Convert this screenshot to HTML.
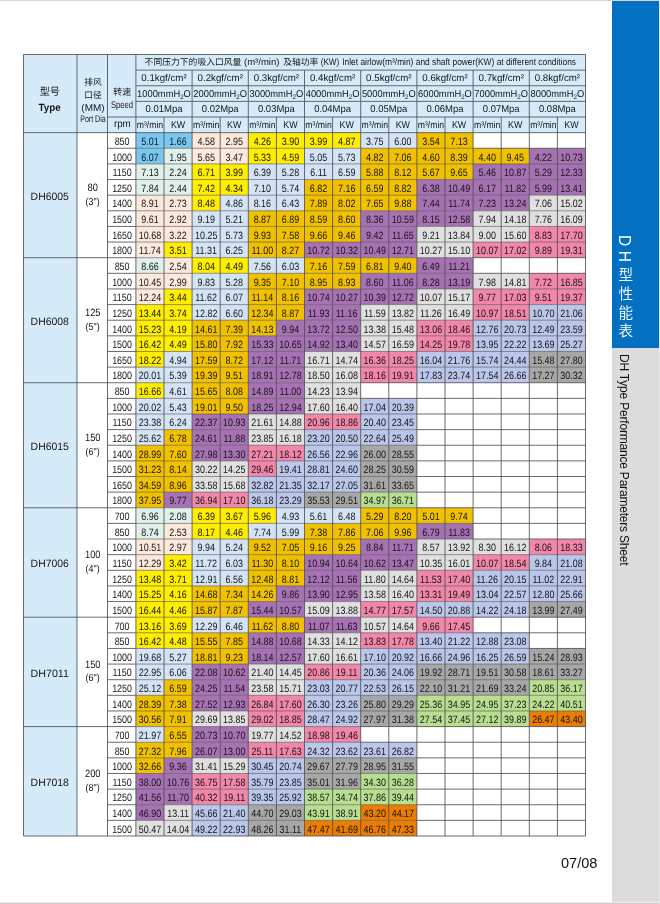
<!DOCTYPE html>
<html lang="zh"><head><meta charset="utf-8"><title>DH型性能表 DH Type Performance Parameters Sheet</title>
<style>
html,body{margin:0;padding:0;background:#fff;}
body{width:660px;height:904px;overflow:hidden;position:relative;font-family:"Liberation Sans","Noto Sans CJK SC",sans-serif;}
svg{position:absolute;left:0;top:0;display:block;}
text{font-family:"Liberation Sans","Noto Sans CJK SC",sans-serif;fill:#161616;text-anchor:middle;text-rendering:geometricPrecision;}
.side-blue{position:absolute;left:612px;top:0;width:47px;height:348px;background:#0370c1;}
.side-grey{position:absolute;left:612px;top:348px;width:47px;height:554px;background:#dcdcdc;}
.vcn{position:absolute;left:615.3px;top:235px;width:18px;color:#fff;font-size:14.6px;line-height:18px;writing-mode:vertical-rl;text-orientation:mixed;letter-spacing:4.1px;white-space:nowrap;font-weight:350;}
.vcn .l1{letter-spacing:4.4px;font-weight:400;font-size:15.6px;}
.vcn .l2{letter-spacing:5.6px;font-weight:400;font-size:15.6px;}
.ven{position:absolute;left:615px;top:354.4px;width:18px;color:#111;font-size:12px;line-height:18px;writing-mode:vertical-rl;text-orientation:mixed;white-space:nowrap;letter-spacing:-0.2px;}
.pg{position:absolute;left:560.5px;top:853px;font-size:15.5px;line-height:20px;color:#111;white-space:nowrap;transform:scaleX(0.94);transform-origin:0 0;}
.edge-t{position:absolute;left:0;top:0;width:660px;height:1px;background:#d9d4d9;}
.edge-b{position:absolute;left:0;top:902px;width:660px;height:2px;background:#d2ccd0;border-top:1px solid #ebe9eb;box-sizing:border-box;}
.edge-r{position:absolute;left:659px;top:0;width:1px;height:904px;background:#e6e6e6;}
</style></head><body>
<div class="side-blue"></div><div class="side-grey"></div>
<div class="edge-t"></div><div class="edge-b"></div><div class="edge-r"></div>
<div class="vcn"><span class="l1">D</span><span class="l2">H</span>型性能表</div>
<div class="ven">DH Type Performance Parameters Sheet</div>
<div class="pg">07/08</div>
<svg width="660" height="904" viewBox="0 0 660 904">
<rect x="23.5" y="54.5" width="562" height="78.15" fill="#d5ebfa"/>
<rect x="23.5" y="132.65" width="53.5" height="703.35" fill="#d5ebfa"/>
<rect x="135.9" y="132.65" width="56.2" height="15.63" fill="#7ac8f2"/>
<rect x="192.1" y="132.65" width="56.2" height="15.63" fill="#fde8dc"/>
<rect x="248.3" y="132.65" width="112.4" height="15.63" fill="#ffee00"/>
<rect x="360.7" y="132.65" width="56.2" height="15.63" fill="#d4e4f6"/>
<rect x="416.9" y="132.65" width="56.2" height="15.63" fill="#f1c100"/>
<rect x="135.9" y="148.28" width="28.1" height="15.63" fill="#7ac8f2"/>
<rect x="164" y="148.28" width="28.1" height="15.63" fill="#e0f0ea"/>
<rect x="192.1" y="148.28" width="56.2" height="15.63" fill="#fde8dc"/>
<rect x="248.3" y="148.28" width="56.2" height="15.63" fill="#ffee00"/>
<rect x="304.5" y="148.28" width="56.2" height="15.63" fill="#d4e4f6"/>
<rect x="360.7" y="148.28" width="168.6" height="15.63" fill="#f1c100"/>
<rect x="529.3" y="148.28" width="56.2" height="15.63" fill="#a672b4"/>
<rect x="135.9" y="163.91" width="56.2" height="15.63" fill="#e0f0ea"/>
<rect x="192.1" y="163.91" width="56.2" height="15.63" fill="#ffee00"/>
<rect x="248.3" y="163.91" width="112.4" height="15.63" fill="#d4e4f6"/>
<rect x="360.7" y="163.91" width="112.4" height="15.63" fill="#f1c100"/>
<rect x="473.1" y="163.91" width="112.4" height="15.63" fill="#a672b4"/>
<rect x="135.9" y="179.54" width="56.2" height="15.63" fill="#e0f0ea"/>
<rect x="192.1" y="179.54" width="56.2" height="15.63" fill="#ffee00"/>
<rect x="248.3" y="179.54" width="56.2" height="15.63" fill="#d4e4f6"/>
<rect x="304.5" y="179.54" width="112.4" height="15.63" fill="#f1c100"/>
<rect x="416.9" y="179.54" width="168.6" height="15.63" fill="#a672b4"/>
<rect x="135.9" y="195.17" width="56.2" height="15.63" fill="#fde8dc"/>
<rect x="192.1" y="195.17" width="28.1" height="15.63" fill="#ffee00"/>
<rect x="220.2" y="195.17" width="84.3" height="15.63" fill="#d4e4f6"/>
<rect x="304.5" y="195.17" width="112.4" height="15.63" fill="#f1c100"/>
<rect x="416.9" y="195.17" width="112.4" height="15.63" fill="#a672b4"/>
<rect x="529.3" y="195.17" width="56.2" height="15.63" fill="#e0e0e0"/>
<rect x="135.9" y="210.8" width="56.2" height="15.63" fill="#fde8dc"/>
<rect x="192.1" y="210.8" width="56.2" height="15.63" fill="#d4e4f6"/>
<rect x="248.3" y="210.8" width="112.4" height="15.63" fill="#f1c100"/>
<rect x="360.7" y="210.8" width="112.4" height="15.63" fill="#a672b4"/>
<rect x="473.1" y="210.8" width="112.4" height="15.63" fill="#e0e0e0"/>
<rect x="135.9" y="226.43" width="56.2" height="15.63" fill="#fde8dc"/>
<rect x="192.1" y="226.43" width="56.2" height="15.63" fill="#d4e4f6"/>
<rect x="248.3" y="226.43" width="112.4" height="15.63" fill="#f1c100"/>
<rect x="360.7" y="226.43" width="56.2" height="15.63" fill="#a672b4"/>
<rect x="416.9" y="226.43" width="112.4" height="15.63" fill="#e0e0e0"/>
<rect x="529.3" y="226.43" width="56.2" height="15.63" fill="#f287aa"/>
<rect x="135.9" y="242.06" width="28.1" height="15.63" fill="#fde8dc"/>
<rect x="164" y="242.06" width="28.1" height="15.63" fill="#ffee00"/>
<rect x="192.1" y="242.06" width="56.2" height="15.63" fill="#d4e4f6"/>
<rect x="248.3" y="242.06" width="56.2" height="15.63" fill="#f1c100"/>
<rect x="304.5" y="242.06" width="112.4" height="15.63" fill="#a672b4"/>
<rect x="416.9" y="242.06" width="56.2" height="15.63" fill="#e0e0e0"/>
<rect x="473.1" y="242.06" width="112.4" height="15.63" fill="#f287aa"/>
<rect x="135.9" y="257.69" width="28.1" height="15.63" fill="#e0f0ea"/>
<rect x="164" y="257.69" width="28.1" height="15.63" fill="#fde8dc"/>
<rect x="192.1" y="257.69" width="56.2" height="15.63" fill="#ffee00"/>
<rect x="248.3" y="257.69" width="56.2" height="15.63" fill="#d4e4f6"/>
<rect x="304.5" y="257.69" width="112.4" height="15.63" fill="#f1c100"/>
<rect x="416.9" y="257.69" width="56.2" height="15.63" fill="#a672b4"/>
<rect x="135.9" y="273.32" width="56.2" height="15.63" fill="#fde8dc"/>
<rect x="192.1" y="273.32" width="56.2" height="15.63" fill="#d4e4f6"/>
<rect x="248.3" y="273.32" width="112.4" height="15.63" fill="#f1c100"/>
<rect x="360.7" y="273.32" width="112.4" height="15.63" fill="#a672b4"/>
<rect x="473.1" y="273.32" width="56.2" height="15.63" fill="#e0e0e0"/>
<rect x="529.3" y="273.32" width="56.2" height="15.63" fill="#f287aa"/>
<rect x="135.9" y="288.95" width="28.1" height="15.63" fill="#fde8dc"/>
<rect x="164" y="288.95" width="28.1" height="15.63" fill="#ffee00"/>
<rect x="192.1" y="288.95" width="56.2" height="15.63" fill="#d4e4f6"/>
<rect x="248.3" y="288.95" width="56.2" height="15.63" fill="#f1c100"/>
<rect x="304.5" y="288.95" width="112.4" height="15.63" fill="#a672b4"/>
<rect x="416.9" y="288.95" width="56.2" height="15.63" fill="#e0e0e0"/>
<rect x="473.1" y="288.95" width="112.4" height="15.63" fill="#f287aa"/>
<rect x="135.9" y="304.58" width="56.2" height="15.63" fill="#ffee00"/>
<rect x="192.1" y="304.58" width="56.2" height="15.63" fill="#d4e4f6"/>
<rect x="248.3" y="304.58" width="56.2" height="15.63" fill="#f1c100"/>
<rect x="304.5" y="304.58" width="56.2" height="15.63" fill="#a672b4"/>
<rect x="360.7" y="304.58" width="112.4" height="15.63" fill="#e0e0e0"/>
<rect x="473.1" y="304.58" width="56.2" height="15.63" fill="#f287aa"/>
<rect x="529.3" y="304.58" width="56.2" height="15.63" fill="#bbc6eb"/>
<rect x="135.9" y="320.21" width="56.2" height="15.63" fill="#ffee00"/>
<rect x="192.1" y="320.21" width="84.3" height="15.63" fill="#f1c100"/>
<rect x="276.4" y="320.21" width="84.3" height="15.63" fill="#a672b4"/>
<rect x="360.7" y="320.21" width="56.2" height="15.63" fill="#e0e0e0"/>
<rect x="416.9" y="320.21" width="56.2" height="15.63" fill="#f287aa"/>
<rect x="473.1" y="320.21" width="112.4" height="15.63" fill="#bbc6eb"/>
<rect x="135.9" y="335.84" width="56.2" height="15.63" fill="#ffee00"/>
<rect x="192.1" y="335.84" width="56.2" height="15.63" fill="#f1c100"/>
<rect x="248.3" y="335.84" width="112.4" height="15.63" fill="#a672b4"/>
<rect x="360.7" y="335.84" width="56.2" height="15.63" fill="#e0e0e0"/>
<rect x="416.9" y="335.84" width="56.2" height="15.63" fill="#f287aa"/>
<rect x="473.1" y="335.84" width="112.4" height="15.63" fill="#bbc6eb"/>
<rect x="135.9" y="351.47" width="28.1" height="15.63" fill="#ffee00"/>
<rect x="164" y="351.47" width="28.1" height="15.63" fill="#d4e4f6"/>
<rect x="192.1" y="351.47" width="56.2" height="15.63" fill="#f1c100"/>
<rect x="248.3" y="351.47" width="56.2" height="15.63" fill="#a672b4"/>
<rect x="304.5" y="351.47" width="56.2" height="15.63" fill="#e0e0e0"/>
<rect x="360.7" y="351.47" width="56.2" height="15.63" fill="#f287aa"/>
<rect x="416.9" y="351.47" width="112.4" height="15.63" fill="#bbc6eb"/>
<rect x="529.3" y="351.47" width="56.2" height="15.63" fill="#a7a7a7"/>
<rect x="135.9" y="367.1" width="56.2" height="15.63" fill="#d4e4f6"/>
<rect x="192.1" y="367.1" width="56.2" height="15.63" fill="#f1c100"/>
<rect x="248.3" y="367.1" width="56.2" height="15.63" fill="#a672b4"/>
<rect x="304.5" y="367.1" width="56.2" height="15.63" fill="#e0e0e0"/>
<rect x="360.7" y="367.1" width="56.2" height="15.63" fill="#f287aa"/>
<rect x="416.9" y="367.1" width="112.4" height="15.63" fill="#bbc6eb"/>
<rect x="529.3" y="367.1" width="56.2" height="15.63" fill="#a7a7a7"/>
<rect x="135.9" y="382.73" width="28.1" height="15.63" fill="#ffee00"/>
<rect x="164" y="382.73" width="28.1" height="15.63" fill="#d4e4f6"/>
<rect x="192.1" y="382.73" width="56.2" height="15.63" fill="#f1c100"/>
<rect x="248.3" y="382.73" width="56.2" height="15.63" fill="#a672b4"/>
<rect x="304.5" y="382.73" width="56.2" height="15.63" fill="#e0e0e0"/>
<rect x="135.9" y="398.36" width="56.2" height="15.63" fill="#d4e4f6"/>
<rect x="192.1" y="398.36" width="56.2" height="15.63" fill="#f1c100"/>
<rect x="248.3" y="398.36" width="56.2" height="15.63" fill="#a672b4"/>
<rect x="304.5" y="398.36" width="56.2" height="15.63" fill="#e0e0e0"/>
<rect x="360.7" y="398.36" width="56.2" height="15.63" fill="#bbc6eb"/>
<rect x="135.9" y="413.99" width="56.2" height="15.63" fill="#d4e4f6"/>
<rect x="192.1" y="413.99" width="56.2" height="15.63" fill="#a672b4"/>
<rect x="248.3" y="413.99" width="56.2" height="15.63" fill="#e0e0e0"/>
<rect x="304.5" y="413.99" width="56.2" height="15.63" fill="#f287aa"/>
<rect x="360.7" y="413.99" width="56.2" height="15.63" fill="#bbc6eb"/>
<rect x="135.9" y="429.62" width="28.1" height="15.63" fill="#d4e4f6"/>
<rect x="164" y="429.62" width="28.1" height="15.63" fill="#f1c100"/>
<rect x="192.1" y="429.62" width="56.2" height="15.63" fill="#a672b4"/>
<rect x="248.3" y="429.62" width="56.2" height="15.63" fill="#e0e0e0"/>
<rect x="304.5" y="429.62" width="112.4" height="15.63" fill="#bbc6eb"/>
<rect x="135.9" y="445.25" width="56.2" height="15.63" fill="#f1c100"/>
<rect x="192.1" y="445.25" width="56.2" height="15.63" fill="#a672b4"/>
<rect x="248.3" y="445.25" width="56.2" height="15.63" fill="#f287aa"/>
<rect x="304.5" y="445.25" width="56.2" height="15.63" fill="#bbc6eb"/>
<rect x="360.7" y="445.25" width="56.2" height="15.63" fill="#a7a7a7"/>
<rect x="135.9" y="460.88" width="56.2" height="15.63" fill="#f1c100"/>
<rect x="192.1" y="460.88" width="56.2" height="15.63" fill="#e0e0e0"/>
<rect x="248.3" y="460.88" width="28.1" height="15.63" fill="#f287aa"/>
<rect x="276.4" y="460.88" width="84.3" height="15.63" fill="#bbc6eb"/>
<rect x="360.7" y="460.88" width="56.2" height="15.63" fill="#a7a7a7"/>
<rect x="135.9" y="476.51" width="56.2" height="15.63" fill="#f1c100"/>
<rect x="192.1" y="476.51" width="56.2" height="15.63" fill="#e0e0e0"/>
<rect x="248.3" y="476.51" width="112.4" height="15.63" fill="#bbc6eb"/>
<rect x="360.7" y="476.51" width="56.2" height="15.63" fill="#a7a7a7"/>
<rect x="135.9" y="492.14" width="28.1" height="15.63" fill="#f1c100"/>
<rect x="164" y="492.14" width="28.1" height="15.63" fill="#a672b4"/>
<rect x="192.1" y="492.14" width="56.2" height="15.63" fill="#f287aa"/>
<rect x="248.3" y="492.14" width="56.2" height="15.63" fill="#bbc6eb"/>
<rect x="304.5" y="492.14" width="56.2" height="15.63" fill="#a7a7a7"/>
<rect x="360.7" y="492.14" width="56.2" height="15.63" fill="#b7df8f"/>
<rect x="135.9" y="507.77" width="56.2" height="15.63" fill="#e0f0ea"/>
<rect x="192.1" y="507.77" width="84.3" height="15.63" fill="#ffee00"/>
<rect x="276.4" y="507.77" width="84.3" height="15.63" fill="#d4e4f6"/>
<rect x="360.7" y="507.77" width="112.4" height="15.63" fill="#f1c100"/>
<rect x="135.9" y="523.4" width="28.1" height="15.63" fill="#e0f0ea"/>
<rect x="164" y="523.4" width="28.1" height="15.63" fill="#fde8dc"/>
<rect x="192.1" y="523.4" width="56.2" height="15.63" fill="#ffee00"/>
<rect x="248.3" y="523.4" width="56.2" height="15.63" fill="#d4e4f6"/>
<rect x="304.5" y="523.4" width="112.4" height="15.63" fill="#f1c100"/>
<rect x="416.9" y="523.4" width="56.2" height="15.63" fill="#a672b4"/>
<rect x="135.9" y="539.03" width="56.2" height="15.63" fill="#fde8dc"/>
<rect x="192.1" y="539.03" width="56.2" height="15.63" fill="#d4e4f6"/>
<rect x="248.3" y="539.03" width="112.4" height="15.63" fill="#f1c100"/>
<rect x="360.7" y="539.03" width="56.2" height="15.63" fill="#a672b4"/>
<rect x="416.9" y="539.03" width="112.4" height="15.63" fill="#e0e0e0"/>
<rect x="529.3" y="539.03" width="56.2" height="15.63" fill="#f287aa"/>
<rect x="135.9" y="554.66" width="28.1" height="15.63" fill="#fde8dc"/>
<rect x="164" y="554.66" width="28.1" height="15.63" fill="#ffee00"/>
<rect x="192.1" y="554.66" width="56.2" height="15.63" fill="#d4e4f6"/>
<rect x="248.3" y="554.66" width="56.2" height="15.63" fill="#f1c100"/>
<rect x="304.5" y="554.66" width="112.4" height="15.63" fill="#a672b4"/>
<rect x="416.9" y="554.66" width="56.2" height="15.63" fill="#e0e0e0"/>
<rect x="473.1" y="554.66" width="56.2" height="15.63" fill="#f287aa"/>
<rect x="529.3" y="554.66" width="56.2" height="15.63" fill="#bbc6eb"/>
<rect x="135.9" y="570.29" width="56.2" height="15.63" fill="#ffee00"/>
<rect x="192.1" y="570.29" width="56.2" height="15.63" fill="#d4e4f6"/>
<rect x="248.3" y="570.29" width="56.2" height="15.63" fill="#f1c100"/>
<rect x="304.5" y="570.29" width="56.2" height="15.63" fill="#a672b4"/>
<rect x="360.7" y="570.29" width="56.2" height="15.63" fill="#e0e0e0"/>
<rect x="416.9" y="570.29" width="56.2" height="15.63" fill="#f287aa"/>
<rect x="473.1" y="570.29" width="112.4" height="15.63" fill="#bbc6eb"/>
<rect x="135.9" y="585.92" width="56.2" height="15.63" fill="#ffee00"/>
<rect x="192.1" y="585.92" width="84.3" height="15.63" fill="#f1c100"/>
<rect x="276.4" y="585.92" width="84.3" height="15.63" fill="#a672b4"/>
<rect x="360.7" y="585.92" width="56.2" height="15.63" fill="#e0e0e0"/>
<rect x="416.9" y="585.92" width="56.2" height="15.63" fill="#f287aa"/>
<rect x="473.1" y="585.92" width="112.4" height="15.63" fill="#bbc6eb"/>
<rect x="135.9" y="601.55" width="56.2" height="15.63" fill="#ffee00"/>
<rect x="192.1" y="601.55" width="56.2" height="15.63" fill="#f1c100"/>
<rect x="248.3" y="601.55" width="56.2" height="15.63" fill="#a672b4"/>
<rect x="304.5" y="601.55" width="56.2" height="15.63" fill="#e0e0e0"/>
<rect x="360.7" y="601.55" width="56.2" height="15.63" fill="#f287aa"/>
<rect x="416.9" y="601.55" width="112.4" height="15.63" fill="#bbc6eb"/>
<rect x="529.3" y="601.55" width="56.2" height="15.63" fill="#a7a7a7"/>
<rect x="135.9" y="617.18" width="56.2" height="15.63" fill="#ffee00"/>
<rect x="192.1" y="617.18" width="56.2" height="15.63" fill="#d4e4f6"/>
<rect x="248.3" y="617.18" width="56.2" height="15.63" fill="#f1c100"/>
<rect x="304.5" y="617.18" width="56.2" height="15.63" fill="#a672b4"/>
<rect x="360.7" y="617.18" width="56.2" height="15.63" fill="#e0e0e0"/>
<rect x="416.9" y="617.18" width="56.2" height="15.63" fill="#f287aa"/>
<rect x="135.9" y="632.81" width="56.2" height="15.63" fill="#ffee00"/>
<rect x="192.1" y="632.81" width="56.2" height="15.63" fill="#f1c100"/>
<rect x="248.3" y="632.81" width="56.2" height="15.63" fill="#a672b4"/>
<rect x="304.5" y="632.81" width="56.2" height="15.63" fill="#e0e0e0"/>
<rect x="360.7" y="632.81" width="56.2" height="15.63" fill="#f287aa"/>
<rect x="416.9" y="632.81" width="112.4" height="15.63" fill="#bbc6eb"/>
<rect x="135.9" y="648.44" width="56.2" height="15.63" fill="#d4e4f6"/>
<rect x="192.1" y="648.44" width="56.2" height="15.63" fill="#f1c100"/>
<rect x="248.3" y="648.44" width="56.2" height="15.63" fill="#a672b4"/>
<rect x="304.5" y="648.44" width="56.2" height="15.63" fill="#e0e0e0"/>
<rect x="360.7" y="648.44" width="168.6" height="15.63" fill="#bbc6eb"/>
<rect x="529.3" y="648.44" width="56.2" height="15.63" fill="#a7a7a7"/>
<rect x="135.9" y="664.07" width="56.2" height="15.63" fill="#d4e4f6"/>
<rect x="192.1" y="664.07" width="56.2" height="15.63" fill="#a672b4"/>
<rect x="248.3" y="664.07" width="56.2" height="15.63" fill="#e0e0e0"/>
<rect x="304.5" y="664.07" width="56.2" height="15.63" fill="#f287aa"/>
<rect x="360.7" y="664.07" width="56.2" height="15.63" fill="#bbc6eb"/>
<rect x="416.9" y="664.07" width="168.6" height="15.63" fill="#a7a7a7"/>
<rect x="135.9" y="679.7" width="28.1" height="15.63" fill="#d4e4f6"/>
<rect x="164" y="679.7" width="28.1" height="15.63" fill="#f1c100"/>
<rect x="192.1" y="679.7" width="56.2" height="15.63" fill="#a672b4"/>
<rect x="248.3" y="679.7" width="56.2" height="15.63" fill="#e0e0e0"/>
<rect x="304.5" y="679.7" width="112.4" height="15.63" fill="#bbc6eb"/>
<rect x="416.9" y="679.7" width="112.4" height="15.63" fill="#a7a7a7"/>
<rect x="529.3" y="679.7" width="56.2" height="15.63" fill="#b7df8f"/>
<rect x="135.9" y="695.33" width="56.2" height="15.63" fill="#f1c100"/>
<rect x="192.1" y="695.33" width="56.2" height="15.63" fill="#a672b4"/>
<rect x="248.3" y="695.33" width="56.2" height="15.63" fill="#f287aa"/>
<rect x="304.5" y="695.33" width="56.2" height="15.63" fill="#bbc6eb"/>
<rect x="360.7" y="695.33" width="56.2" height="15.63" fill="#a7a7a7"/>
<rect x="416.9" y="695.33" width="168.6" height="15.63" fill="#b7df8f"/>
<rect x="135.9" y="710.96" width="56.2" height="15.63" fill="#f1c100"/>
<rect x="192.1" y="710.96" width="56.2" height="15.63" fill="#e0e0e0"/>
<rect x="248.3" y="710.96" width="56.2" height="15.63" fill="#f287aa"/>
<rect x="304.5" y="710.96" width="56.2" height="15.63" fill="#bbc6eb"/>
<rect x="360.7" y="710.96" width="56.2" height="15.63" fill="#a7a7a7"/>
<rect x="416.9" y="710.96" width="112.4" height="15.63" fill="#b7df8f"/>
<rect x="529.3" y="710.96" width="56.2" height="15.63" fill="#eb7d02"/>
<rect x="135.9" y="726.59" width="28.1" height="15.63" fill="#d4e4f6"/>
<rect x="164" y="726.59" width="28.1" height="15.63" fill="#f1c100"/>
<rect x="192.1" y="726.59" width="56.2" height="15.63" fill="#a672b4"/>
<rect x="248.3" y="726.59" width="56.2" height="15.63" fill="#e0e0e0"/>
<rect x="304.5" y="726.59" width="56.2" height="15.63" fill="#f287aa"/>
<rect x="135.9" y="742.22" width="56.2" height="15.63" fill="#f1c100"/>
<rect x="192.1" y="742.22" width="56.2" height="15.63" fill="#a672b4"/>
<rect x="248.3" y="742.22" width="56.2" height="15.63" fill="#f287aa"/>
<rect x="304.5" y="742.22" width="112.4" height="15.63" fill="#bbc6eb"/>
<rect x="135.9" y="757.85" width="28.1" height="15.63" fill="#f1c100"/>
<rect x="164" y="757.85" width="28.1" height="15.63" fill="#a672b4"/>
<rect x="192.1" y="757.85" width="56.2" height="15.63" fill="#e0e0e0"/>
<rect x="248.3" y="757.85" width="56.2" height="15.63" fill="#bbc6eb"/>
<rect x="304.5" y="757.85" width="112.4" height="15.63" fill="#a7a7a7"/>
<rect x="135.9" y="773.48" width="56.2" height="15.63" fill="#a672b4"/>
<rect x="192.1" y="773.48" width="56.2" height="15.63" fill="#f287aa"/>
<rect x="248.3" y="773.48" width="56.2" height="15.63" fill="#bbc6eb"/>
<rect x="304.5" y="773.48" width="56.2" height="15.63" fill="#a7a7a7"/>
<rect x="360.7" y="773.48" width="56.2" height="15.63" fill="#b7df8f"/>
<rect x="135.9" y="789.11" width="56.2" height="15.63" fill="#a672b4"/>
<rect x="192.1" y="789.11" width="56.2" height="15.63" fill="#f287aa"/>
<rect x="248.3" y="789.11" width="56.2" height="15.63" fill="#bbc6eb"/>
<rect x="304.5" y="789.11" width="112.4" height="15.63" fill="#b7df8f"/>
<rect x="135.9" y="804.74" width="28.1" height="15.63" fill="#a672b4"/>
<rect x="164" y="804.74" width="28.1" height="15.63" fill="#e0e0e0"/>
<rect x="192.1" y="804.74" width="56.2" height="15.63" fill="#bbc6eb"/>
<rect x="248.3" y="804.74" width="56.2" height="15.63" fill="#a7a7a7"/>
<rect x="304.5" y="804.74" width="56.2" height="15.63" fill="#b7df8f"/>
<rect x="360.7" y="804.74" width="56.2" height="15.63" fill="#eb7d02"/>
<rect x="135.9" y="820.37" width="56.2" height="15.63" fill="#e0e0e0"/>
<rect x="192.1" y="820.37" width="56.2" height="15.63" fill="#bbc6eb"/>
<rect x="248.3" y="820.37" width="56.2" height="15.63" fill="#a7a7a7"/>
<rect x="304.5" y="820.37" width="112.4" height="15.63" fill="#eb7d02"/>
<g stroke="#505050" stroke-width="0.85" fill="none">
<path d="M23.5 54.5L585.5 54.5"/>
<path d="M23.5 836L585.5 836"/>
<path d="M23.5 54.5L23.5 836"/>
<path d="M585.5 54.5L585.5 836"/>
<path d="M77 54.5L77 836"/>
<path d="M107.5 54.5L107.5 836"/>
<path d="M135.9 54.5L135.9 836"/>
<path d="M135.9 70.13L585.5 70.13"/>
<path d="M135.9 85.76L585.5 85.76"/>
<path d="M135.9 101.39L585.5 101.39"/>
<path d="M107.5 117.02L585.5 117.02"/>
<path d="M23.5 132.65L585.5 132.65"/>
<path d="M164 117.02L164 836"/>
<path d="M192.1 70.13L192.1 836"/>
<path d="M220.2 117.02L220.2 836"/>
<path d="M248.3 70.13L248.3 836"/>
<path d="M276.4 117.02L276.4 836"/>
<path d="M304.5 70.13L304.5 836"/>
<path d="M332.6 117.02L332.6 836"/>
<path d="M360.7 70.13L360.7 836"/>
<path d="M388.8 117.02L388.8 836"/>
<path d="M416.9 70.13L416.9 836"/>
<path d="M445 117.02L445 836"/>
<path d="M473.1 70.13L473.1 836"/>
<path d="M501.2 117.02L501.2 836"/>
<path d="M529.3 70.13L529.3 836"/>
<path d="M557.4 117.02L557.4 836"/>
<path d="M107.5 148.28L135.9 148.28"/>
<path d="M473.1 148.28L585.5 148.28"/>
<path d="M107.5 163.91L135.9 163.91"/>
<path d="M107.5 179.54L135.9 179.54"/>
<path d="M107.5 195.17L135.9 195.17"/>
<path d="M107.5 210.8L135.9 210.8"/>
<path d="M107.5 226.43L135.9 226.43"/>
<path d="M107.5 242.06L135.9 242.06"/>
<path d="M23.5 257.69L135.9 257.69"/>
<path d="M473.1 257.69L585.5 257.69"/>
<path d="M107.5 273.32L135.9 273.32"/>
<path d="M473.1 273.32L585.5 273.32"/>
<path d="M107.5 288.95L135.9 288.95"/>
<path d="M107.5 304.58L135.9 304.58"/>
<path d="M107.5 320.21L135.9 320.21"/>
<path d="M107.5 335.84L135.9 335.84"/>
<path d="M107.5 351.47L135.9 351.47"/>
<path d="M107.5 367.1L135.9 367.1"/>
<path d="M23.5 382.73L135.9 382.73"/>
<path d="M360.7 382.73L585.5 382.73"/>
<path d="M107.5 398.36L135.9 398.36"/>
<path d="M360.7 398.36L585.5 398.36"/>
<path d="M107.5 413.99L135.9 413.99"/>
<path d="M416.9 413.99L585.5 413.99"/>
<path d="M107.5 429.62L135.9 429.62"/>
<path d="M416.9 429.62L585.5 429.62"/>
<path d="M107.5 445.25L135.9 445.25"/>
<path d="M416.9 445.25L585.5 445.25"/>
<path d="M107.5 460.88L135.9 460.88"/>
<path d="M416.9 460.88L585.5 460.88"/>
<path d="M107.5 476.51L135.9 476.51"/>
<path d="M416.9 476.51L585.5 476.51"/>
<path d="M107.5 492.14L135.9 492.14"/>
<path d="M416.9 492.14L585.5 492.14"/>
<path d="M23.5 507.77L135.9 507.77"/>
<path d="M416.9 507.77L585.5 507.77"/>
<path d="M107.5 523.4L135.9 523.4"/>
<path d="M473.1 523.4L585.5 523.4"/>
<path d="M107.5 539.03L135.9 539.03"/>
<path d="M473.1 539.03L585.5 539.03"/>
<path d="M107.5 554.66L135.9 554.66"/>
<path d="M107.5 570.29L135.9 570.29"/>
<path d="M107.5 585.92L135.9 585.92"/>
<path d="M107.5 601.55L135.9 601.55"/>
<path d="M23.5 617.18L135.9 617.18"/>
<path d="M473.1 617.18L585.5 617.18"/>
<path d="M107.5 632.81L135.9 632.81"/>
<path d="M473.1 632.81L585.5 632.81"/>
<path d="M107.5 648.44L135.9 648.44"/>
<path d="M529.3 648.44L585.5 648.44"/>
<path d="M107.5 664.07L135.9 664.07"/>
<path d="M107.5 679.7L135.9 679.7"/>
<path d="M107.5 695.33L135.9 695.33"/>
<path d="M107.5 710.96L135.9 710.96"/>
<path d="M23.5 726.59L135.9 726.59"/>
<path d="M360.7 726.59L585.5 726.59"/>
<path d="M107.5 742.22L135.9 742.22"/>
<path d="M360.7 742.22L585.5 742.22"/>
<path d="M107.5 757.85L135.9 757.85"/>
<path d="M416.9 757.85L585.5 757.85"/>
<path d="M107.5 773.48L135.9 773.48"/>
<path d="M416.9 773.48L585.5 773.48"/>
<path d="M107.5 789.11L135.9 789.11"/>
<path d="M416.9 789.11L585.5 789.11"/>
<path d="M107.5 804.74L135.9 804.74"/>
<path d="M416.9 804.74L585.5 804.74"/>
<path d="M107.5 820.37L135.9 820.37"/>
<path d="M416.9 820.37L585.5 820.37"/>
</g>
<g stroke="#505050" stroke-width="0.85" fill="none" opacity="0.7">
<path d="M135.9 148.28L473.1 148.28"/>
<path d="M135.9 163.91L585.5 163.91"/>
<path d="M135.9 179.54L585.5 179.54"/>
<path d="M135.9 195.17L585.5 195.17"/>
<path d="M135.9 210.8L585.5 210.8"/>
<path d="M135.9 226.43L585.5 226.43"/>
<path d="M135.9 242.06L585.5 242.06"/>
<path d="M135.9 257.69L473.1 257.69"/>
<path d="M135.9 273.32L473.1 273.32"/>
<path d="M135.9 288.95L585.5 288.95"/>
<path d="M135.9 304.58L585.5 304.58"/>
<path d="M135.9 320.21L585.5 320.21"/>
<path d="M135.9 335.84L585.5 335.84"/>
<path d="M135.9 351.47L585.5 351.47"/>
<path d="M135.9 367.1L585.5 367.1"/>
<path d="M135.9 382.73L360.7 382.73"/>
<path d="M135.9 398.36L360.7 398.36"/>
<path d="M135.9 413.99L416.9 413.99"/>
<path d="M135.9 429.62L416.9 429.62"/>
<path d="M135.9 445.25L416.9 445.25"/>
<path d="M135.9 460.88L416.9 460.88"/>
<path d="M135.9 476.51L416.9 476.51"/>
<path d="M135.9 492.14L416.9 492.14"/>
<path d="M135.9 507.77L416.9 507.77"/>
<path d="M135.9 523.4L473.1 523.4"/>
<path d="M135.9 539.03L473.1 539.03"/>
<path d="M135.9 554.66L585.5 554.66"/>
<path d="M135.9 570.29L585.5 570.29"/>
<path d="M135.9 585.92L585.5 585.92"/>
<path d="M135.9 601.55L585.5 601.55"/>
<path d="M135.9 617.18L473.1 617.18"/>
<path d="M135.9 632.81L473.1 632.81"/>
<path d="M135.9 648.44L529.3 648.44"/>
<path d="M135.9 664.07L585.5 664.07"/>
<path d="M135.9 679.7L585.5 679.7"/>
<path d="M135.9 695.33L585.5 695.33"/>
<path d="M135.9 710.96L585.5 710.96"/>
<path d="M135.9 726.59L360.7 726.59"/>
<path d="M135.9 742.22L360.7 742.22"/>
<path d="M135.9 757.85L416.9 757.85"/>
<path d="M135.9 773.48L416.9 773.48"/>
<path d="M135.9 789.11L416.9 789.11"/>
<path d="M135.9 804.74L416.9 804.74"/>
<path d="M135.9 820.37L416.9 820.37"/>
</g>
<text x="49.85" y="94.6" font-size="10.2" font-weight="400">型号</text>
<text transform="translate(49.65 111) scale(0.927 1)" font-size="10.6" font-weight="bold">Type</text>
<text x="93.05" y="84.8" font-size="8.7" font-weight="400">排风</text>
<text x="93.05" y="98.2" font-size="8.7" font-weight="400">口径</text>
<text transform="translate(92.95 111.4) scale(1.026 1)" font-size="9.7">(MM)</text>
<text transform="translate(92.95 122.4) scale(0.738 1)" font-size="9.6">Port Dia</text>
<text x="122.2" y="95.2" font-size="8.9" font-weight="400">转速</text>
<text transform="translate(121.9 107.6) scale(0.776 1)" font-size="9.8">Speed</text>
<text transform="translate(122.3 127.4) scale(0.938 1)" font-size="10.4">rpm</text>
<text x="144.6" y="65.4" font-size="8.8" font-weight="400" style="text-anchor:start">不同压力下的吸入口风量</text>
<text transform="translate(261.7 65.4) scale(1.018 1)" font-size="9.4">(m³/min)</text>
<text x="283.2" y="65.4" font-size="8.8" font-weight="400" style="text-anchor:start">及轴功率</text>
<text transform="translate(330 65.4) scale(0.869 1)" font-size="9.4">(KW)</text>
<text transform="translate(459.15 65.4) scale(0.872 1)" font-size="9.6">Inlet airlow(m³/min) and shaft power(KW) at different conditions</text>
<text transform="translate(164 80.94) scale(0.992 1)" font-size="9.8">0.1kgf/cm²</text>
<text transform="translate(164 96.78) scale(0.945 1)" font-size="9.9">1000mmH<tspan dy="2" font-size="6.6">2</tspan><tspan dy="-2">O</tspan></text>
<text transform="translate(164 112.21) scale(0.960 1)" font-size="9.9">0.01Mpa</text>
<text transform="translate(149.95 127.54) scale(0.900 1)" font-size="9.6">m³/min</text>
<text transform="translate(178.05 127.54) scale(0.906 1)" font-size="9.8">KW</text>
<text transform="translate(220.2 80.94) scale(0.992 1)" font-size="9.8">0.2kgf/cm²</text>
<text transform="translate(220.2 96.78) scale(0.945 1)" font-size="9.9">2000mmH<tspan dy="2" font-size="6.6">2</tspan><tspan dy="-2">O</tspan></text>
<text transform="translate(220.2 112.21) scale(0.960 1)" font-size="9.9">0.02Mpa</text>
<text transform="translate(206.15 127.54) scale(0.900 1)" font-size="9.6">m³/min</text>
<text transform="translate(234.25 127.54) scale(0.906 1)" font-size="9.8">KW</text>
<text transform="translate(276.4 80.94) scale(0.992 1)" font-size="9.8">0.3kgf/cm²</text>
<text transform="translate(276.4 96.78) scale(0.945 1)" font-size="9.9">3000mmH<tspan dy="2" font-size="6.6">2</tspan><tspan dy="-2">O</tspan></text>
<text transform="translate(276.4 112.21) scale(0.960 1)" font-size="9.9">0.03Mpa</text>
<text transform="translate(262.35 127.54) scale(0.900 1)" font-size="9.6">m³/min</text>
<text transform="translate(290.45 127.54) scale(0.906 1)" font-size="9.8">KW</text>
<text transform="translate(332.6 80.94) scale(0.992 1)" font-size="9.8">0.4kgf/cm²</text>
<text transform="translate(332.6 96.78) scale(0.945 1)" font-size="9.9">4000mmH<tspan dy="2" font-size="6.6">2</tspan><tspan dy="-2">O</tspan></text>
<text transform="translate(332.6 112.21) scale(0.960 1)" font-size="9.9">0.04Mpa</text>
<text transform="translate(318.55 127.54) scale(0.900 1)" font-size="9.6">m³/min</text>
<text transform="translate(346.65 127.54) scale(0.906 1)" font-size="9.8">KW</text>
<text transform="translate(388.8 80.94) scale(0.992 1)" font-size="9.8">0.5kgf/cm²</text>
<text transform="translate(388.8 96.78) scale(0.945 1)" font-size="9.9">5000mmH<tspan dy="2" font-size="6.6">2</tspan><tspan dy="-2">O</tspan></text>
<text transform="translate(388.8 112.21) scale(0.960 1)" font-size="9.9">0.05Mpa</text>
<text transform="translate(374.75 127.54) scale(0.900 1)" font-size="9.6">m³/min</text>
<text transform="translate(402.85 127.54) scale(0.906 1)" font-size="9.8">KW</text>
<text transform="translate(445 80.94) scale(0.992 1)" font-size="9.8">0.6kgf/cm²</text>
<text transform="translate(445 96.78) scale(0.945 1)" font-size="9.9">6000mmH<tspan dy="2" font-size="6.6">2</tspan><tspan dy="-2">O</tspan></text>
<text transform="translate(445 112.21) scale(0.960 1)" font-size="9.9">0.06Mpa</text>
<text transform="translate(430.95 127.54) scale(0.900 1)" font-size="9.6">m³/min</text>
<text transform="translate(459.05 127.54) scale(0.906 1)" font-size="9.8">KW</text>
<text transform="translate(501.2 80.94) scale(0.992 1)" font-size="9.8">0.7kgf/cm²</text>
<text transform="translate(501.2 96.78) scale(0.945 1)" font-size="9.9">7000mmH<tspan dy="2" font-size="6.6">2</tspan><tspan dy="-2">O</tspan></text>
<text transform="translate(501.2 112.21) scale(0.960 1)" font-size="9.9">0.07Mpa</text>
<text transform="translate(487.15 127.54) scale(0.900 1)" font-size="9.6">m³/min</text>
<text transform="translate(515.25 127.54) scale(0.906 1)" font-size="9.8">KW</text>
<text transform="translate(557.4 80.94) scale(0.992 1)" font-size="9.8">0.8kgf/cm²</text>
<text transform="translate(557.4 96.78) scale(0.945 1)" font-size="9.9">8000mmH<tspan dy="2" font-size="6.6">2</tspan><tspan dy="-2">O</tspan></text>
<text transform="translate(557.4 112.21) scale(0.960 1)" font-size="9.9">0.08Mpa</text>
<text transform="translate(543.35 127.54) scale(0.900 1)" font-size="9.6">m³/min</text>
<text transform="translate(571.45 127.54) scale(0.906 1)" font-size="9.8">KW</text>
<text transform="translate(49.75 200.07) scale(0.985 1)" font-size="10.6">DH6005</text>
<text transform="translate(92.75 190.87) scale(0.880 1)" font-size="10.6">80</text>
<text transform="translate(92.55 204.67) scale(0.880 1)" font-size="10.2">(3&quot;)</text>
<text transform="translate(122.1 144.97) scale(0.845 1)" font-size="10.6">850</text>
<text transform="translate(149.95 144.97) scale(0.845 1)" font-size="10.6">5.01</text>
<text transform="translate(178.05 144.97) scale(0.845 1)" font-size="10.6">1.66</text>
<text transform="translate(206.15 144.97) scale(0.845 1)" font-size="10.6">4.58</text>
<text transform="translate(234.25 144.97) scale(0.845 1)" font-size="10.6">2.95</text>
<text transform="translate(262.35 144.97) scale(0.845 1)" font-size="10.6">4.26</text>
<text transform="translate(290.45 144.97) scale(0.845 1)" font-size="10.6">3.90</text>
<text transform="translate(318.55 144.97) scale(0.845 1)" font-size="10.6">3.99</text>
<text transform="translate(346.65 144.97) scale(0.845 1)" font-size="10.6">4.87</text>
<text transform="translate(374.75 144.97) scale(0.845 1)" font-size="10.6">3.75</text>
<text transform="translate(402.85 144.97) scale(0.845 1)" font-size="10.6">6.00</text>
<text transform="translate(430.95 144.97) scale(0.845 1)" font-size="10.6">3.54</text>
<text transform="translate(459.05 144.97) scale(0.845 1)" font-size="10.6">7.13</text>
<text transform="translate(122.1 160.6) scale(0.845 1)" font-size="10.6">1000</text>
<text transform="translate(149.95 160.6) scale(0.845 1)" font-size="10.6">6.07</text>
<text transform="translate(178.05 160.6) scale(0.845 1)" font-size="10.6">1.95</text>
<text transform="translate(206.15 160.6) scale(0.845 1)" font-size="10.6">5.65</text>
<text transform="translate(234.25 160.6) scale(0.845 1)" font-size="10.6">3.47</text>
<text transform="translate(262.35 160.6) scale(0.845 1)" font-size="10.6">5.33</text>
<text transform="translate(290.45 160.6) scale(0.845 1)" font-size="10.6">4.59</text>
<text transform="translate(318.55 160.6) scale(0.845 1)" font-size="10.6">5.05</text>
<text transform="translate(346.65 160.6) scale(0.845 1)" font-size="10.6">5.73</text>
<text transform="translate(374.75 160.6) scale(0.845 1)" font-size="10.6">4.82</text>
<text transform="translate(402.85 160.6) scale(0.845 1)" font-size="10.6">7.06</text>
<text transform="translate(430.95 160.6) scale(0.845 1)" font-size="10.6">4.60</text>
<text transform="translate(459.05 160.6) scale(0.845 1)" font-size="10.6">8.39</text>
<text transform="translate(487.15 160.6) scale(0.845 1)" font-size="10.6">4.40</text>
<text transform="translate(515.25 160.6) scale(0.845 1)" font-size="10.6">9.45</text>
<text transform="translate(543.35 160.6) scale(0.845 1)" font-size="10.6">4.22</text>
<text transform="translate(571.45 160.6) scale(0.845 1)" font-size="10.6">10.73</text>
<text transform="translate(122.1 176.23) scale(0.845 1)" font-size="10.6">1150</text>
<text transform="translate(149.95 176.23) scale(0.845 1)" font-size="10.6">7.13</text>
<text transform="translate(178.05 176.23) scale(0.845 1)" font-size="10.6">2.24</text>
<text transform="translate(206.15 176.23) scale(0.845 1)" font-size="10.6">6.71</text>
<text transform="translate(234.25 176.23) scale(0.845 1)" font-size="10.6">3.99</text>
<text transform="translate(262.35 176.23) scale(0.845 1)" font-size="10.6">6.39</text>
<text transform="translate(290.45 176.23) scale(0.845 1)" font-size="10.6">5.28</text>
<text transform="translate(318.55 176.23) scale(0.845 1)" font-size="10.6">6.11</text>
<text transform="translate(346.65 176.23) scale(0.845 1)" font-size="10.6">6.59</text>
<text transform="translate(374.75 176.23) scale(0.845 1)" font-size="10.6">5.88</text>
<text transform="translate(402.85 176.23) scale(0.845 1)" font-size="10.6">8.12</text>
<text transform="translate(430.95 176.23) scale(0.845 1)" font-size="10.6">5.67</text>
<text transform="translate(459.05 176.23) scale(0.845 1)" font-size="10.6">9.65</text>
<text transform="translate(487.15 176.23) scale(0.845 1)" font-size="10.6">5.46</text>
<text transform="translate(515.25 176.23) scale(0.845 1)" font-size="10.6">10.87</text>
<text transform="translate(543.35 176.23) scale(0.845 1)" font-size="10.6">5.29</text>
<text transform="translate(571.45 176.23) scale(0.845 1)" font-size="10.6">12.33</text>
<text transform="translate(122.1 191.86) scale(0.845 1)" font-size="10.6">1250</text>
<text transform="translate(149.95 191.86) scale(0.845 1)" font-size="10.6">7.84</text>
<text transform="translate(178.05 191.86) scale(0.845 1)" font-size="10.6">2.44</text>
<text transform="translate(206.15 191.86) scale(0.845 1)" font-size="10.6">7.42</text>
<text transform="translate(234.25 191.86) scale(0.845 1)" font-size="10.6">4.34</text>
<text transform="translate(262.35 191.86) scale(0.845 1)" font-size="10.6">7.10</text>
<text transform="translate(290.45 191.86) scale(0.845 1)" font-size="10.6">5.74</text>
<text transform="translate(318.55 191.86) scale(0.845 1)" font-size="10.6">6.82</text>
<text transform="translate(346.65 191.86) scale(0.845 1)" font-size="10.6">7.16</text>
<text transform="translate(374.75 191.86) scale(0.845 1)" font-size="10.6">6.59</text>
<text transform="translate(402.85 191.86) scale(0.845 1)" font-size="10.6">8.82</text>
<text transform="translate(430.95 191.86) scale(0.845 1)" font-size="10.6">6.38</text>
<text transform="translate(459.05 191.86) scale(0.845 1)" font-size="10.6">10.49</text>
<text transform="translate(487.15 191.86) scale(0.845 1)" font-size="10.6">6.17</text>
<text transform="translate(515.25 191.86) scale(0.845 1)" font-size="10.6">11.82</text>
<text transform="translate(543.35 191.86) scale(0.845 1)" font-size="10.6">5.99</text>
<text transform="translate(571.45 191.86) scale(0.845 1)" font-size="10.6">13.41</text>
<text transform="translate(122.1 207.49) scale(0.845 1)" font-size="10.6">1400</text>
<text transform="translate(149.95 207.49) scale(0.845 1)" font-size="10.6">8.91</text>
<text transform="translate(178.05 207.49) scale(0.845 1)" font-size="10.6">2.73</text>
<text transform="translate(206.15 207.49) scale(0.845 1)" font-size="10.6">8.48</text>
<text transform="translate(234.25 207.49) scale(0.845 1)" font-size="10.6">4.86</text>
<text transform="translate(262.35 207.49) scale(0.845 1)" font-size="10.6">8.16</text>
<text transform="translate(290.45 207.49) scale(0.845 1)" font-size="10.6">6.43</text>
<text transform="translate(318.55 207.49) scale(0.845 1)" font-size="10.6">7.89</text>
<text transform="translate(346.65 207.49) scale(0.845 1)" font-size="10.6">8.02</text>
<text transform="translate(374.75 207.49) scale(0.845 1)" font-size="10.6">7.65</text>
<text transform="translate(402.85 207.49) scale(0.845 1)" font-size="10.6">9.88</text>
<text transform="translate(430.95 207.49) scale(0.845 1)" font-size="10.6">7.44</text>
<text transform="translate(459.05 207.49) scale(0.845 1)" font-size="10.6">11.74</text>
<text transform="translate(487.15 207.49) scale(0.845 1)" font-size="10.6">7.23</text>
<text transform="translate(515.25 207.49) scale(0.845 1)" font-size="10.6">13.24</text>
<text transform="translate(543.35 207.49) scale(0.845 1)" font-size="10.6">7.06</text>
<text transform="translate(571.45 207.49) scale(0.845 1)" font-size="10.6">15.02</text>
<text transform="translate(122.1 223.12) scale(0.845 1)" font-size="10.6">1500</text>
<text transform="translate(149.95 223.12) scale(0.845 1)" font-size="10.6">9.61</text>
<text transform="translate(178.05 223.12) scale(0.845 1)" font-size="10.6">2.92</text>
<text transform="translate(206.15 223.12) scale(0.845 1)" font-size="10.6">9.19</text>
<text transform="translate(234.25 223.12) scale(0.845 1)" font-size="10.6">5.21</text>
<text transform="translate(262.35 223.12) scale(0.845 1)" font-size="10.6">8.87</text>
<text transform="translate(290.45 223.12) scale(0.845 1)" font-size="10.6">6.89</text>
<text transform="translate(318.55 223.12) scale(0.845 1)" font-size="10.6">8.59</text>
<text transform="translate(346.65 223.12) scale(0.845 1)" font-size="10.6">8.60</text>
<text transform="translate(374.75 223.12) scale(0.845 1)" font-size="10.6">8.36</text>
<text transform="translate(402.85 223.12) scale(0.845 1)" font-size="10.6">10.59</text>
<text transform="translate(430.95 223.12) scale(0.845 1)" font-size="10.6">8.15</text>
<text transform="translate(459.05 223.12) scale(0.845 1)" font-size="10.6">12.58</text>
<text transform="translate(487.15 223.12) scale(0.845 1)" font-size="10.6">7.94</text>
<text transform="translate(515.25 223.12) scale(0.845 1)" font-size="10.6">14.18</text>
<text transform="translate(543.35 223.12) scale(0.845 1)" font-size="10.6">7.76</text>
<text transform="translate(571.45 223.12) scale(0.845 1)" font-size="10.6">16.09</text>
<text transform="translate(122.1 238.75) scale(0.845 1)" font-size="10.6">1650</text>
<text transform="translate(149.95 238.75) scale(0.845 1)" font-size="10.6">10.68</text>
<text transform="translate(178.05 238.75) scale(0.845 1)" font-size="10.6">3.22</text>
<text transform="translate(206.15 238.75) scale(0.845 1)" font-size="10.6">10.25</text>
<text transform="translate(234.25 238.75) scale(0.845 1)" font-size="10.6">5.73</text>
<text transform="translate(262.35 238.75) scale(0.845 1)" font-size="10.6">9.93</text>
<text transform="translate(290.45 238.75) scale(0.845 1)" font-size="10.6">7.58</text>
<text transform="translate(318.55 238.75) scale(0.845 1)" font-size="10.6">9.66</text>
<text transform="translate(346.65 238.75) scale(0.845 1)" font-size="10.6">9.46</text>
<text transform="translate(374.75 238.75) scale(0.845 1)" font-size="10.6">9.42</text>
<text transform="translate(402.85 238.75) scale(0.845 1)" font-size="10.6">11.65</text>
<text transform="translate(430.95 238.75) scale(0.845 1)" font-size="10.6">9.21</text>
<text transform="translate(459.05 238.75) scale(0.845 1)" font-size="10.6">13.84</text>
<text transform="translate(487.15 238.75) scale(0.845 1)" font-size="10.6">9.00</text>
<text transform="translate(515.25 238.75) scale(0.845 1)" font-size="10.6">15.60</text>
<text transform="translate(543.35 238.75) scale(0.845 1)" font-size="10.6">8.83</text>
<text transform="translate(571.45 238.75) scale(0.845 1)" font-size="10.6">17.70</text>
<text transform="translate(122.1 254.38) scale(0.845 1)" font-size="10.6">1800</text>
<text transform="translate(149.95 254.38) scale(0.845 1)" font-size="10.6">11.74</text>
<text transform="translate(178.05 254.38) scale(0.845 1)" font-size="10.6">3.51</text>
<text transform="translate(206.15 254.38) scale(0.845 1)" font-size="10.6">11.31</text>
<text transform="translate(234.25 254.38) scale(0.845 1)" font-size="10.6">6.25</text>
<text transform="translate(262.35 254.38) scale(0.845 1)" font-size="10.6">11.00</text>
<text transform="translate(290.45 254.38) scale(0.845 1)" font-size="10.6">8.27</text>
<text transform="translate(318.55 254.38) scale(0.845 1)" font-size="10.6">10.72</text>
<text transform="translate(346.65 254.38) scale(0.845 1)" font-size="10.6">10.32</text>
<text transform="translate(374.75 254.38) scale(0.845 1)" font-size="10.6">10.49</text>
<text transform="translate(402.85 254.38) scale(0.845 1)" font-size="10.6">12.71</text>
<text transform="translate(430.95 254.38) scale(0.845 1)" font-size="10.6">10.27</text>
<text transform="translate(459.05 254.38) scale(0.845 1)" font-size="10.6">15.10</text>
<text transform="translate(487.15 254.38) scale(0.845 1)" font-size="10.6">10.07</text>
<text transform="translate(515.25 254.38) scale(0.845 1)" font-size="10.6">17.02</text>
<text transform="translate(543.35 254.38) scale(0.845 1)" font-size="10.6">9.89</text>
<text transform="translate(571.45 254.38) scale(0.845 1)" font-size="10.6">19.31</text>
<text transform="translate(49.75 325.11) scale(0.985 1)" font-size="10.6">DH6008</text>
<text transform="translate(92.75 315.91) scale(0.880 1)" font-size="10.6">125</text>
<text transform="translate(92.55 329.71) scale(0.880 1)" font-size="10.2">(5&quot;)</text>
<text transform="translate(122.1 270) scale(0.845 1)" font-size="10.6">850</text>
<text transform="translate(149.95 270) scale(0.845 1)" font-size="10.6">8.66</text>
<text transform="translate(178.05 270) scale(0.845 1)" font-size="10.6">2.54</text>
<text transform="translate(206.15 270) scale(0.845 1)" font-size="10.6">8.04</text>
<text transform="translate(234.25 270) scale(0.845 1)" font-size="10.6">4.49</text>
<text transform="translate(262.35 270) scale(0.845 1)" font-size="10.6">7.56</text>
<text transform="translate(290.45 270) scale(0.845 1)" font-size="10.6">6.03</text>
<text transform="translate(318.55 270) scale(0.845 1)" font-size="10.6">7.16</text>
<text transform="translate(346.65 270) scale(0.845 1)" font-size="10.6">7.59</text>
<text transform="translate(374.75 270) scale(0.845 1)" font-size="10.6">6.81</text>
<text transform="translate(402.85 270) scale(0.845 1)" font-size="10.6">9.40</text>
<text transform="translate(430.95 270) scale(0.845 1)" font-size="10.6">6.49</text>
<text transform="translate(459.05 270) scale(0.845 1)" font-size="10.6">11.21</text>
<text transform="translate(122.1 285.64) scale(0.845 1)" font-size="10.6">1000</text>
<text transform="translate(149.95 285.64) scale(0.845 1)" font-size="10.6">10.45</text>
<text transform="translate(178.05 285.64) scale(0.845 1)" font-size="10.6">2.99</text>
<text transform="translate(206.15 285.64) scale(0.845 1)" font-size="10.6">9.83</text>
<text transform="translate(234.25 285.64) scale(0.845 1)" font-size="10.6">5.28</text>
<text transform="translate(262.35 285.64) scale(0.845 1)" font-size="10.6">9.35</text>
<text transform="translate(290.45 285.64) scale(0.845 1)" font-size="10.6">7.10</text>
<text transform="translate(318.55 285.64) scale(0.845 1)" font-size="10.6">8.95</text>
<text transform="translate(346.65 285.64) scale(0.845 1)" font-size="10.6">8.93</text>
<text transform="translate(374.75 285.64) scale(0.845 1)" font-size="10.6">8.60</text>
<text transform="translate(402.85 285.64) scale(0.845 1)" font-size="10.6">11.06</text>
<text transform="translate(430.95 285.64) scale(0.845 1)" font-size="10.6">8.28</text>
<text transform="translate(459.05 285.64) scale(0.845 1)" font-size="10.6">13.19</text>
<text transform="translate(487.15 285.64) scale(0.845 1)" font-size="10.6">7.98</text>
<text transform="translate(515.25 285.64) scale(0.845 1)" font-size="10.6">14.81</text>
<text transform="translate(543.35 285.64) scale(0.845 1)" font-size="10.6">7.72</text>
<text transform="translate(571.45 285.64) scale(0.845 1)" font-size="10.6">16.85</text>
<text transform="translate(122.1 301.27) scale(0.845 1)" font-size="10.6">1150</text>
<text transform="translate(149.95 301.27) scale(0.845 1)" font-size="10.6">12.24</text>
<text transform="translate(178.05 301.27) scale(0.845 1)" font-size="10.6">3.44</text>
<text transform="translate(206.15 301.27) scale(0.845 1)" font-size="10.6">11.62</text>
<text transform="translate(234.25 301.27) scale(0.845 1)" font-size="10.6">6.07</text>
<text transform="translate(262.35 301.27) scale(0.845 1)" font-size="10.6">11.14</text>
<text transform="translate(290.45 301.27) scale(0.845 1)" font-size="10.6">8.16</text>
<text transform="translate(318.55 301.27) scale(0.845 1)" font-size="10.6">10.74</text>
<text transform="translate(346.65 301.27) scale(0.845 1)" font-size="10.6">10.27</text>
<text transform="translate(374.75 301.27) scale(0.845 1)" font-size="10.6">10.39</text>
<text transform="translate(402.85 301.27) scale(0.845 1)" font-size="10.6">12.72</text>
<text transform="translate(430.95 301.27) scale(0.845 1)" font-size="10.6">10.07</text>
<text transform="translate(459.05 301.27) scale(0.845 1)" font-size="10.6">15.17</text>
<text transform="translate(487.15 301.27) scale(0.845 1)" font-size="10.6">9.77</text>
<text transform="translate(515.25 301.27) scale(0.845 1)" font-size="10.6">17.03</text>
<text transform="translate(543.35 301.27) scale(0.845 1)" font-size="10.6">9.51</text>
<text transform="translate(571.45 301.27) scale(0.845 1)" font-size="10.6">19.37</text>
<text transform="translate(122.1 316.9) scale(0.845 1)" font-size="10.6">1250</text>
<text transform="translate(149.95 316.9) scale(0.845 1)" font-size="10.6">13.44</text>
<text transform="translate(178.05 316.9) scale(0.845 1)" font-size="10.6">3.74</text>
<text transform="translate(206.15 316.9) scale(0.845 1)" font-size="10.6">12.82</text>
<text transform="translate(234.25 316.9) scale(0.845 1)" font-size="10.6">6.60</text>
<text transform="translate(262.35 316.9) scale(0.845 1)" font-size="10.6">12.34</text>
<text transform="translate(290.45 316.9) scale(0.845 1)" font-size="10.6">8.87</text>
<text transform="translate(318.55 316.9) scale(0.845 1)" font-size="10.6">11.93</text>
<text transform="translate(346.65 316.9) scale(0.845 1)" font-size="10.6">11.16</text>
<text transform="translate(374.75 316.9) scale(0.845 1)" font-size="10.6">11.59</text>
<text transform="translate(402.85 316.9) scale(0.845 1)" font-size="10.6">13.82</text>
<text transform="translate(430.95 316.9) scale(0.845 1)" font-size="10.6">11.26</text>
<text transform="translate(459.05 316.9) scale(0.845 1)" font-size="10.6">16.49</text>
<text transform="translate(487.15 316.9) scale(0.845 1)" font-size="10.6">10.97</text>
<text transform="translate(515.25 316.9) scale(0.845 1)" font-size="10.6">18.51</text>
<text transform="translate(543.35 316.9) scale(0.845 1)" font-size="10.6">10.70</text>
<text transform="translate(571.45 316.9) scale(0.845 1)" font-size="10.6">21.06</text>
<text transform="translate(122.1 332.53) scale(0.845 1)" font-size="10.6">1400</text>
<text transform="translate(149.95 332.53) scale(0.845 1)" font-size="10.6">15.23</text>
<text transform="translate(178.05 332.53) scale(0.845 1)" font-size="10.6">4.19</text>
<text transform="translate(206.15 332.53) scale(0.845 1)" font-size="10.6">14.61</text>
<text transform="translate(234.25 332.53) scale(0.845 1)" font-size="10.6">7.39</text>
<text transform="translate(262.35 332.53) scale(0.845 1)" font-size="10.6">14.13</text>
<text transform="translate(290.45 332.53) scale(0.845 1)" font-size="10.6">9.94</text>
<text transform="translate(318.55 332.53) scale(0.845 1)" font-size="10.6">13.72</text>
<text transform="translate(346.65 332.53) scale(0.845 1)" font-size="10.6">12.50</text>
<text transform="translate(374.75 332.53) scale(0.845 1)" font-size="10.6">13.38</text>
<text transform="translate(402.85 332.53) scale(0.845 1)" font-size="10.6">15.48</text>
<text transform="translate(430.95 332.53) scale(0.845 1)" font-size="10.6">13.06</text>
<text transform="translate(459.05 332.53) scale(0.845 1)" font-size="10.6">18.46</text>
<text transform="translate(487.15 332.53) scale(0.845 1)" font-size="10.6">12.76</text>
<text transform="translate(515.25 332.53) scale(0.845 1)" font-size="10.6">20.73</text>
<text transform="translate(543.35 332.53) scale(0.845 1)" font-size="10.6">12.49</text>
<text transform="translate(571.45 332.53) scale(0.845 1)" font-size="10.6">23.59</text>
<text transform="translate(122.1 348.16) scale(0.845 1)" font-size="10.6">1500</text>
<text transform="translate(149.95 348.16) scale(0.845 1)" font-size="10.6">16.42</text>
<text transform="translate(178.05 348.16) scale(0.845 1)" font-size="10.6">4.49</text>
<text transform="translate(206.15 348.16) scale(0.845 1)" font-size="10.6">15.80</text>
<text transform="translate(234.25 348.16) scale(0.845 1)" font-size="10.6">7.92</text>
<text transform="translate(262.35 348.16) scale(0.845 1)" font-size="10.6">15.33</text>
<text transform="translate(290.45 348.16) scale(0.845 1)" font-size="10.6">10.65</text>
<text transform="translate(318.55 348.16) scale(0.845 1)" font-size="10.6">14.92</text>
<text transform="translate(346.65 348.16) scale(0.845 1)" font-size="10.6">13.40</text>
<text transform="translate(374.75 348.16) scale(0.845 1)" font-size="10.6">14.57</text>
<text transform="translate(402.85 348.16) scale(0.845 1)" font-size="10.6">16.59</text>
<text transform="translate(430.95 348.16) scale(0.845 1)" font-size="10.6">14.25</text>
<text transform="translate(459.05 348.16) scale(0.845 1)" font-size="10.6">19.78</text>
<text transform="translate(487.15 348.16) scale(0.845 1)" font-size="10.6">13.95</text>
<text transform="translate(515.25 348.16) scale(0.845 1)" font-size="10.6">22.22</text>
<text transform="translate(543.35 348.16) scale(0.845 1)" font-size="10.6">13.69</text>
<text transform="translate(571.45 348.16) scale(0.845 1)" font-size="10.6">25.27</text>
<text transform="translate(122.1 363.79) scale(0.845 1)" font-size="10.6">1650</text>
<text transform="translate(149.95 363.79) scale(0.845 1)" font-size="10.6">18.22</text>
<text transform="translate(178.05 363.79) scale(0.845 1)" font-size="10.6">4.94</text>
<text transform="translate(206.15 363.79) scale(0.845 1)" font-size="10.6">17.59</text>
<text transform="translate(234.25 363.79) scale(0.845 1)" font-size="10.6">8.72</text>
<text transform="translate(262.35 363.79) scale(0.845 1)" font-size="10.6">17.12</text>
<text transform="translate(290.45 363.79) scale(0.845 1)" font-size="10.6">11.71</text>
<text transform="translate(318.55 363.79) scale(0.845 1)" font-size="10.6">16.71</text>
<text transform="translate(346.65 363.79) scale(0.845 1)" font-size="10.6">14.74</text>
<text transform="translate(374.75 363.79) scale(0.845 1)" font-size="10.6">16.36</text>
<text transform="translate(402.85 363.79) scale(0.845 1)" font-size="10.6">18.25</text>
<text transform="translate(430.95 363.79) scale(0.845 1)" font-size="10.6">16.04</text>
<text transform="translate(459.05 363.79) scale(0.845 1)" font-size="10.6">21.76</text>
<text transform="translate(487.15 363.79) scale(0.845 1)" font-size="10.6">15.74</text>
<text transform="translate(515.25 363.79) scale(0.845 1)" font-size="10.6">24.44</text>
<text transform="translate(543.35 363.79) scale(0.845 1)" font-size="10.6">15.48</text>
<text transform="translate(571.45 363.79) scale(0.845 1)" font-size="10.6">27.80</text>
<text transform="translate(122.1 379.42) scale(0.845 1)" font-size="10.6">1800</text>
<text transform="translate(149.95 379.42) scale(0.845 1)" font-size="10.6">20.01</text>
<text transform="translate(178.05 379.42) scale(0.845 1)" font-size="10.6">5.39</text>
<text transform="translate(206.15 379.42) scale(0.845 1)" font-size="10.6">19.39</text>
<text transform="translate(234.25 379.42) scale(0.845 1)" font-size="10.6">9.51</text>
<text transform="translate(262.35 379.42) scale(0.845 1)" font-size="10.6">18.91</text>
<text transform="translate(290.45 379.42) scale(0.845 1)" font-size="10.6">12.78</text>
<text transform="translate(318.55 379.42) scale(0.845 1)" font-size="10.6">18.50</text>
<text transform="translate(346.65 379.42) scale(0.845 1)" font-size="10.6">16.08</text>
<text transform="translate(374.75 379.42) scale(0.845 1)" font-size="10.6">18.16</text>
<text transform="translate(402.85 379.42) scale(0.845 1)" font-size="10.6">19.91</text>
<text transform="translate(430.95 379.42) scale(0.845 1)" font-size="10.6">17.83</text>
<text transform="translate(459.05 379.42) scale(0.845 1)" font-size="10.6">23.74</text>
<text transform="translate(487.15 379.42) scale(0.845 1)" font-size="10.6">17.54</text>
<text transform="translate(515.25 379.42) scale(0.845 1)" font-size="10.6">26.66</text>
<text transform="translate(543.35 379.42) scale(0.845 1)" font-size="10.6">17.27</text>
<text transform="translate(571.45 379.42) scale(0.845 1)" font-size="10.6">30.32</text>
<text transform="translate(49.75 450.15) scale(0.985 1)" font-size="10.6">DH6015</text>
<text transform="translate(92.75 440.95) scale(0.880 1)" font-size="10.6">150</text>
<text transform="translate(92.55 454.75) scale(0.880 1)" font-size="10.2">(6&quot;)</text>
<text transform="translate(122.1 395.05) scale(0.845 1)" font-size="10.6">850</text>
<text transform="translate(149.95 395.05) scale(0.845 1)" font-size="10.6">16.66</text>
<text transform="translate(178.05 395.05) scale(0.845 1)" font-size="10.6">4.61</text>
<text transform="translate(206.15 395.05) scale(0.845 1)" font-size="10.6">15.65</text>
<text transform="translate(234.25 395.05) scale(0.845 1)" font-size="10.6">8.08</text>
<text transform="translate(262.35 395.05) scale(0.845 1)" font-size="10.6">14.89</text>
<text transform="translate(290.45 395.05) scale(0.845 1)" font-size="10.6">11.00</text>
<text transform="translate(318.55 395.05) scale(0.845 1)" font-size="10.6">14.23</text>
<text transform="translate(346.65 395.05) scale(0.845 1)" font-size="10.6">13.94</text>
<text transform="translate(122.1 410.68) scale(0.845 1)" font-size="10.6">1000</text>
<text transform="translate(149.95 410.68) scale(0.845 1)" font-size="10.6">20.02</text>
<text transform="translate(178.05 410.68) scale(0.845 1)" font-size="10.6">5.43</text>
<text transform="translate(206.15 410.68) scale(0.845 1)" font-size="10.6">19.01</text>
<text transform="translate(234.25 410.68) scale(0.845 1)" font-size="10.6">9.50</text>
<text transform="translate(262.35 410.68) scale(0.845 1)" font-size="10.6">18.25</text>
<text transform="translate(290.45 410.68) scale(0.845 1)" font-size="10.6">12.94</text>
<text transform="translate(318.55 410.68) scale(0.845 1)" font-size="10.6">17.60</text>
<text transform="translate(346.65 410.68) scale(0.845 1)" font-size="10.6">16.40</text>
<text transform="translate(374.75 410.68) scale(0.845 1)" font-size="10.6">17.04</text>
<text transform="translate(402.85 410.68) scale(0.845 1)" font-size="10.6">20.39</text>
<text transform="translate(122.1 426.31) scale(0.845 1)" font-size="10.6">1150</text>
<text transform="translate(149.95 426.31) scale(0.845 1)" font-size="10.6">23.38</text>
<text transform="translate(178.05 426.31) scale(0.845 1)" font-size="10.6">6.24</text>
<text transform="translate(206.15 426.31) scale(0.845 1)" font-size="10.6">22.37</text>
<text transform="translate(234.25 426.31) scale(0.845 1)" font-size="10.6">10.93</text>
<text transform="translate(262.35 426.31) scale(0.845 1)" font-size="10.6">21.61</text>
<text transform="translate(290.45 426.31) scale(0.845 1)" font-size="10.6">14.88</text>
<text transform="translate(318.55 426.31) scale(0.845 1)" font-size="10.6">20.96</text>
<text transform="translate(346.65 426.31) scale(0.845 1)" font-size="10.6">18.86</text>
<text transform="translate(374.75 426.31) scale(0.845 1)" font-size="10.6">20.40</text>
<text transform="translate(402.85 426.31) scale(0.845 1)" font-size="10.6">23.45</text>
<text transform="translate(122.1 441.94) scale(0.845 1)" font-size="10.6">1250</text>
<text transform="translate(149.95 441.94) scale(0.845 1)" font-size="10.6">25.62</text>
<text transform="translate(178.05 441.94) scale(0.845 1)" font-size="10.6">6.78</text>
<text transform="translate(206.15 441.94) scale(0.845 1)" font-size="10.6">24.61</text>
<text transform="translate(234.25 441.94) scale(0.845 1)" font-size="10.6">11.88</text>
<text transform="translate(262.35 441.94) scale(0.845 1)" font-size="10.6">23.85</text>
<text transform="translate(290.45 441.94) scale(0.845 1)" font-size="10.6">16.18</text>
<text transform="translate(318.55 441.94) scale(0.845 1)" font-size="10.6">23.20</text>
<text transform="translate(346.65 441.94) scale(0.845 1)" font-size="10.6">20.50</text>
<text transform="translate(374.75 441.94) scale(0.845 1)" font-size="10.6">22.64</text>
<text transform="translate(402.85 441.94) scale(0.845 1)" font-size="10.6">25.49</text>
<text transform="translate(122.1 457.56) scale(0.845 1)" font-size="10.6">1400</text>
<text transform="translate(149.95 457.56) scale(0.845 1)" font-size="10.6">28.99</text>
<text transform="translate(178.05 457.56) scale(0.845 1)" font-size="10.6">7.60</text>
<text transform="translate(206.15 457.56) scale(0.845 1)" font-size="10.6">27.98</text>
<text transform="translate(234.25 457.56) scale(0.845 1)" font-size="10.6">13.30</text>
<text transform="translate(262.35 457.56) scale(0.845 1)" font-size="10.6">27.21</text>
<text transform="translate(290.45 457.56) scale(0.845 1)" font-size="10.6">18.12</text>
<text transform="translate(318.55 457.56) scale(0.845 1)" font-size="10.6">26.56</text>
<text transform="translate(346.65 457.56) scale(0.845 1)" font-size="10.6">22.96</text>
<text transform="translate(374.75 457.56) scale(0.845 1)" font-size="10.6">26.00</text>
<text transform="translate(402.85 457.56) scale(0.845 1)" font-size="10.6">28.55</text>
<text transform="translate(122.1 473.2) scale(0.845 1)" font-size="10.6">1500</text>
<text transform="translate(149.95 473.2) scale(0.845 1)" font-size="10.6">31.23</text>
<text transform="translate(178.05 473.2) scale(0.845 1)" font-size="10.6">8.14</text>
<text transform="translate(206.15 473.2) scale(0.845 1)" font-size="10.6">30.22</text>
<text transform="translate(234.25 473.2) scale(0.845 1)" font-size="10.6">14.25</text>
<text transform="translate(262.35 473.2) scale(0.845 1)" font-size="10.6">29.46</text>
<text transform="translate(290.45 473.2) scale(0.845 1)" font-size="10.6">19.41</text>
<text transform="translate(318.55 473.2) scale(0.845 1)" font-size="10.6">28.81</text>
<text transform="translate(346.65 473.2) scale(0.845 1)" font-size="10.6">24.60</text>
<text transform="translate(374.75 473.2) scale(0.845 1)" font-size="10.6">28.25</text>
<text transform="translate(402.85 473.2) scale(0.845 1)" font-size="10.6">30.59</text>
<text transform="translate(122.1 488.83) scale(0.845 1)" font-size="10.6">1650</text>
<text transform="translate(149.95 488.83) scale(0.845 1)" font-size="10.6">34.59</text>
<text transform="translate(178.05 488.83) scale(0.845 1)" font-size="10.6">8.96</text>
<text transform="translate(206.15 488.83) scale(0.845 1)" font-size="10.6">33.58</text>
<text transform="translate(234.25 488.83) scale(0.845 1)" font-size="10.6">15.68</text>
<text transform="translate(262.35 488.83) scale(0.845 1)" font-size="10.6">32.82</text>
<text transform="translate(290.45 488.83) scale(0.845 1)" font-size="10.6">21.35</text>
<text transform="translate(318.55 488.83) scale(0.845 1)" font-size="10.6">32.17</text>
<text transform="translate(346.65 488.83) scale(0.845 1)" font-size="10.6">27.05</text>
<text transform="translate(374.75 488.83) scale(0.845 1)" font-size="10.6">31.61</text>
<text transform="translate(402.85 488.83) scale(0.845 1)" font-size="10.6">33.65</text>
<text transform="translate(122.1 504.46) scale(0.845 1)" font-size="10.6">1800</text>
<text transform="translate(149.95 504.46) scale(0.845 1)" font-size="10.6">37.95</text>
<text transform="translate(178.05 504.46) scale(0.845 1)" font-size="10.6">9.77</text>
<text transform="translate(206.15 504.46) scale(0.845 1)" font-size="10.6">36.94</text>
<text transform="translate(234.25 504.46) scale(0.845 1)" font-size="10.6">17.10</text>
<text transform="translate(262.35 504.46) scale(0.845 1)" font-size="10.6">36.18</text>
<text transform="translate(290.45 504.46) scale(0.845 1)" font-size="10.6">23.29</text>
<text transform="translate(318.55 504.46) scale(0.845 1)" font-size="10.6">35.53</text>
<text transform="translate(346.65 504.46) scale(0.845 1)" font-size="10.6">29.51</text>
<text transform="translate(374.75 504.46) scale(0.845 1)" font-size="10.6">34.97</text>
<text transform="translate(402.85 504.46) scale(0.845 1)" font-size="10.6">36.71</text>
<text transform="translate(49.75 567.38) scale(0.985 1)" font-size="10.6">DH7006</text>
<text transform="translate(92.75 558.18) scale(0.880 1)" font-size="10.6">100</text>
<text transform="translate(92.55 571.98) scale(0.880 1)" font-size="10.2">(4&quot;)</text>
<text transform="translate(122.1 520.09) scale(0.845 1)" font-size="10.6">700</text>
<text transform="translate(149.95 520.09) scale(0.845 1)" font-size="10.6">6.96</text>
<text transform="translate(178.05 520.09) scale(0.845 1)" font-size="10.6">2.08</text>
<text transform="translate(206.15 520.09) scale(0.845 1)" font-size="10.6">6.39</text>
<text transform="translate(234.25 520.09) scale(0.845 1)" font-size="10.6">3.67</text>
<text transform="translate(262.35 520.09) scale(0.845 1)" font-size="10.6">5.96</text>
<text transform="translate(290.45 520.09) scale(0.845 1)" font-size="10.6">4.93</text>
<text transform="translate(318.55 520.09) scale(0.845 1)" font-size="10.6">5.61</text>
<text transform="translate(346.65 520.09) scale(0.845 1)" font-size="10.6">6.48</text>
<text transform="translate(374.75 520.09) scale(0.845 1)" font-size="10.6">5.29</text>
<text transform="translate(402.85 520.09) scale(0.845 1)" font-size="10.6">8.20</text>
<text transform="translate(430.95 520.09) scale(0.845 1)" font-size="10.6">5.01</text>
<text transform="translate(459.05 520.09) scale(0.845 1)" font-size="10.6">9.74</text>
<text transform="translate(122.1 535.72) scale(0.845 1)" font-size="10.6">850</text>
<text transform="translate(149.95 535.72) scale(0.845 1)" font-size="10.6">8.74</text>
<text transform="translate(178.05 535.72) scale(0.845 1)" font-size="10.6">2.53</text>
<text transform="translate(206.15 535.72) scale(0.845 1)" font-size="10.6">8.17</text>
<text transform="translate(234.25 535.72) scale(0.845 1)" font-size="10.6">4.46</text>
<text transform="translate(262.35 535.72) scale(0.845 1)" font-size="10.6">7.74</text>
<text transform="translate(290.45 535.72) scale(0.845 1)" font-size="10.6">5.99</text>
<text transform="translate(318.55 535.72) scale(0.845 1)" font-size="10.6">7.38</text>
<text transform="translate(346.65 535.72) scale(0.845 1)" font-size="10.6">7.86</text>
<text transform="translate(374.75 535.72) scale(0.845 1)" font-size="10.6">7.06</text>
<text transform="translate(402.85 535.72) scale(0.845 1)" font-size="10.6">9.96</text>
<text transform="translate(430.95 535.72) scale(0.845 1)" font-size="10.6">6.79</text>
<text transform="translate(459.05 535.72) scale(0.845 1)" font-size="10.6">11.83</text>
<text transform="translate(122.1 551.35) scale(0.845 1)" font-size="10.6">1000</text>
<text transform="translate(149.95 551.35) scale(0.845 1)" font-size="10.6">10.51</text>
<text transform="translate(178.05 551.35) scale(0.845 1)" font-size="10.6">2.97</text>
<text transform="translate(206.15 551.35) scale(0.845 1)" font-size="10.6">9.94</text>
<text transform="translate(234.25 551.35) scale(0.845 1)" font-size="10.6">5.24</text>
<text transform="translate(262.35 551.35) scale(0.845 1)" font-size="10.6">9.52</text>
<text transform="translate(290.45 551.35) scale(0.845 1)" font-size="10.6">7.05</text>
<text transform="translate(318.55 551.35) scale(0.845 1)" font-size="10.6">9.16</text>
<text transform="translate(346.65 551.35) scale(0.845 1)" font-size="10.6">9.25</text>
<text transform="translate(374.75 551.35) scale(0.845 1)" font-size="10.6">8.84</text>
<text transform="translate(402.85 551.35) scale(0.845 1)" font-size="10.6">11.71</text>
<text transform="translate(430.95 551.35) scale(0.845 1)" font-size="10.6">8.57</text>
<text transform="translate(459.05 551.35) scale(0.845 1)" font-size="10.6">13.92</text>
<text transform="translate(487.15 551.35) scale(0.845 1)" font-size="10.6">8.30</text>
<text transform="translate(515.25 551.35) scale(0.845 1)" font-size="10.6">16.12</text>
<text transform="translate(543.35 551.35) scale(0.845 1)" font-size="10.6">8.06</text>
<text transform="translate(571.45 551.35) scale(0.845 1)" font-size="10.6">18.33</text>
<text transform="translate(122.1 566.98) scale(0.845 1)" font-size="10.6">1150</text>
<text transform="translate(149.95 566.98) scale(0.845 1)" font-size="10.6">12.29</text>
<text transform="translate(178.05 566.98) scale(0.845 1)" font-size="10.6">3.42</text>
<text transform="translate(206.15 566.98) scale(0.845 1)" font-size="10.6">11.72</text>
<text transform="translate(234.25 566.98) scale(0.845 1)" font-size="10.6">6.03</text>
<text transform="translate(262.35 566.98) scale(0.845 1)" font-size="10.6">11.30</text>
<text transform="translate(290.45 566.98) scale(0.845 1)" font-size="10.6">8.10</text>
<text transform="translate(318.55 566.98) scale(0.845 1)" font-size="10.6">10.94</text>
<text transform="translate(346.65 566.98) scale(0.845 1)" font-size="10.6">10.64</text>
<text transform="translate(374.75 566.98) scale(0.845 1)" font-size="10.6">10.62</text>
<text transform="translate(402.85 566.98) scale(0.845 1)" font-size="10.6">13.47</text>
<text transform="translate(430.95 566.98) scale(0.845 1)" font-size="10.6">10.35</text>
<text transform="translate(459.05 566.98) scale(0.845 1)" font-size="10.6">16.01</text>
<text transform="translate(487.15 566.98) scale(0.845 1)" font-size="10.6">10.07</text>
<text transform="translate(515.25 566.98) scale(0.845 1)" font-size="10.6">18.54</text>
<text transform="translate(543.35 566.98) scale(0.845 1)" font-size="10.6">9.84</text>
<text transform="translate(571.45 566.98) scale(0.845 1)" font-size="10.6">21.08</text>
<text transform="translate(122.1 582.61) scale(0.845 1)" font-size="10.6">1250</text>
<text transform="translate(149.95 582.61) scale(0.845 1)" font-size="10.6">13.48</text>
<text transform="translate(178.05 582.61) scale(0.845 1)" font-size="10.6">3.71</text>
<text transform="translate(206.15 582.61) scale(0.845 1)" font-size="10.6">12.91</text>
<text transform="translate(234.25 582.61) scale(0.845 1)" font-size="10.6">6.56</text>
<text transform="translate(262.35 582.61) scale(0.845 1)" font-size="10.6">12.48</text>
<text transform="translate(290.45 582.61) scale(0.845 1)" font-size="10.6">8.81</text>
<text transform="translate(318.55 582.61) scale(0.845 1)" font-size="10.6">12.12</text>
<text transform="translate(346.65 582.61) scale(0.845 1)" font-size="10.6">11.56</text>
<text transform="translate(374.75 582.61) scale(0.845 1)" font-size="10.6">11.80</text>
<text transform="translate(402.85 582.61) scale(0.845 1)" font-size="10.6">14.64</text>
<text transform="translate(430.95 582.61) scale(0.845 1)" font-size="10.6">11.53</text>
<text transform="translate(459.05 582.61) scale(0.845 1)" font-size="10.6">17.40</text>
<text transform="translate(487.15 582.61) scale(0.845 1)" font-size="10.6">11.26</text>
<text transform="translate(515.25 582.61) scale(0.845 1)" font-size="10.6">20.15</text>
<text transform="translate(543.35 582.61) scale(0.845 1)" font-size="10.6">11.02</text>
<text transform="translate(571.45 582.61) scale(0.845 1)" font-size="10.6">22.91</text>
<text transform="translate(122.1 598.24) scale(0.845 1)" font-size="10.6">1400</text>
<text transform="translate(149.95 598.24) scale(0.845 1)" font-size="10.6">15.25</text>
<text transform="translate(178.05 598.24) scale(0.845 1)" font-size="10.6">4.16</text>
<text transform="translate(206.15 598.24) scale(0.845 1)" font-size="10.6">14.68</text>
<text transform="translate(234.25 598.24) scale(0.845 1)" font-size="10.6">7.34</text>
<text transform="translate(262.35 598.24) scale(0.845 1)" font-size="10.6">14.26</text>
<text transform="translate(290.45 598.24) scale(0.845 1)" font-size="10.6">9.86</text>
<text transform="translate(318.55 598.24) scale(0.845 1)" font-size="10.6">13.90</text>
<text transform="translate(346.65 598.24) scale(0.845 1)" font-size="10.6">12.95</text>
<text transform="translate(374.75 598.24) scale(0.845 1)" font-size="10.6">13.58</text>
<text transform="translate(402.85 598.24) scale(0.845 1)" font-size="10.6">16.40</text>
<text transform="translate(430.95 598.24) scale(0.845 1)" font-size="10.6">13.31</text>
<text transform="translate(459.05 598.24) scale(0.845 1)" font-size="10.6">19.49</text>
<text transform="translate(487.15 598.24) scale(0.845 1)" font-size="10.6">13.04</text>
<text transform="translate(515.25 598.24) scale(0.845 1)" font-size="10.6">22.57</text>
<text transform="translate(543.35 598.24) scale(0.845 1)" font-size="10.6">12.80</text>
<text transform="translate(571.45 598.24) scale(0.845 1)" font-size="10.6">25.66</text>
<text transform="translate(122.1 613.87) scale(0.845 1)" font-size="10.6">1500</text>
<text transform="translate(149.95 613.87) scale(0.845 1)" font-size="10.6">16.44</text>
<text transform="translate(178.05 613.87) scale(0.845 1)" font-size="10.6">4.46</text>
<text transform="translate(206.15 613.87) scale(0.845 1)" font-size="10.6">15.87</text>
<text transform="translate(234.25 613.87) scale(0.845 1)" font-size="10.6">7.87</text>
<text transform="translate(262.35 613.87) scale(0.845 1)" font-size="10.6">15.44</text>
<text transform="translate(290.45 613.87) scale(0.845 1)" font-size="10.6">10.57</text>
<text transform="translate(318.55 613.87) scale(0.845 1)" font-size="10.6">15.09</text>
<text transform="translate(346.65 613.87) scale(0.845 1)" font-size="10.6">13.88</text>
<text transform="translate(374.75 613.87) scale(0.845 1)" font-size="10.6">14.77</text>
<text transform="translate(402.85 613.87) scale(0.845 1)" font-size="10.6">17.57</text>
<text transform="translate(430.95 613.87) scale(0.845 1)" font-size="10.6">14.50</text>
<text transform="translate(459.05 613.87) scale(0.845 1)" font-size="10.6">20.88</text>
<text transform="translate(487.15 613.87) scale(0.845 1)" font-size="10.6">14.22</text>
<text transform="translate(515.25 613.87) scale(0.845 1)" font-size="10.6">24.18</text>
<text transform="translate(543.35 613.87) scale(0.845 1)" font-size="10.6">13.99</text>
<text transform="translate(571.45 613.87) scale(0.845 1)" font-size="10.6">27.49</text>
<text transform="translate(49.75 676.78) scale(1.005 1)" font-size="10.6">DH7011</text>
<text transform="translate(92.75 667.59) scale(0.880 1)" font-size="10.6">150</text>
<text transform="translate(92.55 681.38) scale(0.880 1)" font-size="10.2">(6&quot;)</text>
<text transform="translate(122.1 629.5) scale(0.845 1)" font-size="10.6">700</text>
<text transform="translate(149.95 629.5) scale(0.845 1)" font-size="10.6">13.16</text>
<text transform="translate(178.05 629.5) scale(0.845 1)" font-size="10.6">3.69</text>
<text transform="translate(206.15 629.5) scale(0.845 1)" font-size="10.6">12.29</text>
<text transform="translate(234.25 629.5) scale(0.845 1)" font-size="10.6">6.46</text>
<text transform="translate(262.35 629.5) scale(0.845 1)" font-size="10.6">11.62</text>
<text transform="translate(290.45 629.5) scale(0.845 1)" font-size="10.6">8.80</text>
<text transform="translate(318.55 629.5) scale(0.845 1)" font-size="10.6">11.07</text>
<text transform="translate(346.65 629.5) scale(0.845 1)" font-size="10.6">11.63</text>
<text transform="translate(374.75 629.5) scale(0.845 1)" font-size="10.6">10.57</text>
<text transform="translate(402.85 629.5) scale(0.845 1)" font-size="10.6">14.64</text>
<text transform="translate(430.95 629.5) scale(0.845 1)" font-size="10.6">9.66</text>
<text transform="translate(459.05 629.5) scale(0.845 1)" font-size="10.6">17.45</text>
<text transform="translate(122.1 645.12) scale(0.845 1)" font-size="10.6">850</text>
<text transform="translate(149.95 645.12) scale(0.845 1)" font-size="10.6">16.42</text>
<text transform="translate(178.05 645.12) scale(0.845 1)" font-size="10.6">4.48</text>
<text transform="translate(206.15 645.12) scale(0.845 1)" font-size="10.6">15.55</text>
<text transform="translate(234.25 645.12) scale(0.845 1)" font-size="10.6">7.85</text>
<text transform="translate(262.35 645.12) scale(0.845 1)" font-size="10.6">14.88</text>
<text transform="translate(290.45 645.12) scale(0.845 1)" font-size="10.6">10.68</text>
<text transform="translate(318.55 645.12) scale(0.845 1)" font-size="10.6">14.33</text>
<text transform="translate(346.65 645.12) scale(0.845 1)" font-size="10.6">14.12</text>
<text transform="translate(374.75 645.12) scale(0.845 1)" font-size="10.6">13.83</text>
<text transform="translate(402.85 645.12) scale(0.845 1)" font-size="10.6">17.78</text>
<text transform="translate(430.95 645.12) scale(0.845 1)" font-size="10.6">13.40</text>
<text transform="translate(459.05 645.12) scale(0.845 1)" font-size="10.6">21.22</text>
<text transform="translate(487.15 645.12) scale(0.845 1)" font-size="10.6">12.88</text>
<text transform="translate(515.25 645.12) scale(0.845 1)" font-size="10.6">23.08</text>
<text transform="translate(122.1 660.76) scale(0.845 1)" font-size="10.6">1000</text>
<text transform="translate(149.95 660.76) scale(0.845 1)" font-size="10.6">19.68</text>
<text transform="translate(178.05 660.76) scale(0.845 1)" font-size="10.6">5.27</text>
<text transform="translate(206.15 660.76) scale(0.845 1)" font-size="10.6">18.81</text>
<text transform="translate(234.25 660.76) scale(0.845 1)" font-size="10.6">9.23</text>
<text transform="translate(262.35 660.76) scale(0.845 1)" font-size="10.6">18.14</text>
<text transform="translate(290.45 660.76) scale(0.845 1)" font-size="10.6">12.57</text>
<text transform="translate(318.55 660.76) scale(0.845 1)" font-size="10.6">17.60</text>
<text transform="translate(346.65 660.76) scale(0.845 1)" font-size="10.6">16.61</text>
<text transform="translate(374.75 660.76) scale(0.845 1)" font-size="10.6">17.10</text>
<text transform="translate(402.85 660.76) scale(0.845 1)" font-size="10.6">20.92</text>
<text transform="translate(430.95 660.76) scale(0.845 1)" font-size="10.6">16.66</text>
<text transform="translate(459.05 660.76) scale(0.845 1)" font-size="10.6">24.96</text>
<text transform="translate(487.15 660.76) scale(0.845 1)" font-size="10.6">16.25</text>
<text transform="translate(515.25 660.76) scale(0.845 1)" font-size="10.6">26.59</text>
<text transform="translate(543.35 660.76) scale(0.845 1)" font-size="10.6">15.24</text>
<text transform="translate(571.45 660.76) scale(0.845 1)" font-size="10.6">28.93</text>
<text transform="translate(122.1 676.38) scale(0.845 1)" font-size="10.6">1150</text>
<text transform="translate(149.95 676.38) scale(0.845 1)" font-size="10.6">22.95</text>
<text transform="translate(178.05 676.38) scale(0.845 1)" font-size="10.6">6.06</text>
<text transform="translate(206.15 676.38) scale(0.845 1)" font-size="10.6">22.08</text>
<text transform="translate(234.25 676.38) scale(0.845 1)" font-size="10.6">10.62</text>
<text transform="translate(262.35 676.38) scale(0.845 1)" font-size="10.6">21.40</text>
<text transform="translate(290.45 676.38) scale(0.845 1)" font-size="10.6">14.45</text>
<text transform="translate(318.55 676.38) scale(0.845 1)" font-size="10.6">20.86</text>
<text transform="translate(346.65 676.38) scale(0.845 1)" font-size="10.6">19.11</text>
<text transform="translate(374.75 676.38) scale(0.845 1)" font-size="10.6">20.36</text>
<text transform="translate(402.85 676.38) scale(0.845 1)" font-size="10.6">24.06</text>
<text transform="translate(430.95 676.38) scale(0.845 1)" font-size="10.6">19.92</text>
<text transform="translate(459.05 676.38) scale(0.845 1)" font-size="10.6">28.71</text>
<text transform="translate(487.15 676.38) scale(0.845 1)" font-size="10.6">19.51</text>
<text transform="translate(515.25 676.38) scale(0.845 1)" font-size="10.6">30.58</text>
<text transform="translate(543.35 676.38) scale(0.845 1)" font-size="10.6">18.61</text>
<text transform="translate(571.45 676.38) scale(0.845 1)" font-size="10.6">33.27</text>
<text transform="translate(122.1 692.02) scale(0.845 1)" font-size="10.6">1250</text>
<text transform="translate(149.95 692.02) scale(0.845 1)" font-size="10.6">25.12</text>
<text transform="translate(178.05 692.02) scale(0.845 1)" font-size="10.6">6.59</text>
<text transform="translate(206.15 692.02) scale(0.845 1)" font-size="10.6">24.25</text>
<text transform="translate(234.25 692.02) scale(0.845 1)" font-size="10.6">11.54</text>
<text transform="translate(262.35 692.02) scale(0.845 1)" font-size="10.6">23.58</text>
<text transform="translate(290.45 692.02) scale(0.845 1)" font-size="10.6">15.71</text>
<text transform="translate(318.55 692.02) scale(0.845 1)" font-size="10.6">23.03</text>
<text transform="translate(346.65 692.02) scale(0.845 1)" font-size="10.6">20.77</text>
<text transform="translate(374.75 692.02) scale(0.845 1)" font-size="10.6">22.53</text>
<text transform="translate(402.85 692.02) scale(0.845 1)" font-size="10.6">26.15</text>
<text transform="translate(430.95 692.02) scale(0.845 1)" font-size="10.6">22.10</text>
<text transform="translate(459.05 692.02) scale(0.845 1)" font-size="10.6">31.21</text>
<text transform="translate(487.15 692.02) scale(0.845 1)" font-size="10.6">21.69</text>
<text transform="translate(515.25 692.02) scale(0.845 1)" font-size="10.6">33.24</text>
<text transform="translate(543.35 692.02) scale(0.845 1)" font-size="10.6">20.85</text>
<text transform="translate(571.45 692.02) scale(0.845 1)" font-size="10.6">36.17</text>
<text transform="translate(122.1 707.64) scale(0.845 1)" font-size="10.6">1400</text>
<text transform="translate(149.95 707.64) scale(0.845 1)" font-size="10.6">28.39</text>
<text transform="translate(178.05 707.64) scale(0.845 1)" font-size="10.6">7.38</text>
<text transform="translate(206.15 707.64) scale(0.845 1)" font-size="10.6">27.52</text>
<text transform="translate(234.25 707.64) scale(0.845 1)" font-size="10.6">12.93</text>
<text transform="translate(262.35 707.64) scale(0.845 1)" font-size="10.6">26.84</text>
<text transform="translate(290.45 707.64) scale(0.845 1)" font-size="10.6">17.60</text>
<text transform="translate(318.55 707.64) scale(0.845 1)" font-size="10.6">26.30</text>
<text transform="translate(346.65 707.64) scale(0.845 1)" font-size="10.6">23.26</text>
<text transform="translate(374.75 707.64) scale(0.845 1)" font-size="10.6">25.80</text>
<text transform="translate(402.85 707.64) scale(0.845 1)" font-size="10.6">29.29</text>
<text transform="translate(430.95 707.64) scale(0.845 1)" font-size="10.6">25.36</text>
<text transform="translate(459.05 707.64) scale(0.845 1)" font-size="10.6">34.95</text>
<text transform="translate(487.15 707.64) scale(0.845 1)" font-size="10.6">24.95</text>
<text transform="translate(515.25 707.64) scale(0.845 1)" font-size="10.6">37.23</text>
<text transform="translate(543.35 707.64) scale(0.845 1)" font-size="10.6">24.22</text>
<text transform="translate(571.45 707.64) scale(0.845 1)" font-size="10.6">40.51</text>
<text transform="translate(122.1 723.28) scale(0.845 1)" font-size="10.6">1500</text>
<text transform="translate(149.95 723.28) scale(0.845 1)" font-size="10.6">30.56</text>
<text transform="translate(178.05 723.28) scale(0.845 1)" font-size="10.6">7.91</text>
<text transform="translate(206.15 723.28) scale(0.845 1)" font-size="10.6">29.69</text>
<text transform="translate(234.25 723.28) scale(0.845 1)" font-size="10.6">13.85</text>
<text transform="translate(262.35 723.28) scale(0.845 1)" font-size="10.6">29.02</text>
<text transform="translate(290.45 723.28) scale(0.845 1)" font-size="10.6">18.85</text>
<text transform="translate(318.55 723.28) scale(0.845 1)" font-size="10.6">28.47</text>
<text transform="translate(346.65 723.28) scale(0.845 1)" font-size="10.6">24.92</text>
<text transform="translate(374.75 723.28) scale(0.845 1)" font-size="10.6">27.97</text>
<text transform="translate(402.85 723.28) scale(0.845 1)" font-size="10.6">31.38</text>
<text transform="translate(430.95 723.28) scale(0.845 1)" font-size="10.6">27.54</text>
<text transform="translate(459.05 723.28) scale(0.845 1)" font-size="10.6">37.45</text>
<text transform="translate(487.15 723.28) scale(0.845 1)" font-size="10.6">27.12</text>
<text transform="translate(515.25 723.28) scale(0.845 1)" font-size="10.6">39.89</text>
<text transform="translate(543.35 723.28) scale(0.845 1)" font-size="10.6">26.47</text>
<text transform="translate(571.45 723.28) scale(0.845 1)" font-size="10.6">43.40</text>
<text transform="translate(49.75 786.2) scale(0.985 1)" font-size="10.6">DH7018</text>
<text transform="translate(92.75 777) scale(0.880 1)" font-size="10.6">200</text>
<text transform="translate(92.55 790.8) scale(0.880 1)" font-size="10.2">(8&quot;)</text>
<text transform="translate(122.1 738.9) scale(0.845 1)" font-size="10.6">700</text>
<text transform="translate(149.95 738.9) scale(0.845 1)" font-size="10.6">21.97</text>
<text transform="translate(178.05 738.9) scale(0.845 1)" font-size="10.6">6.55</text>
<text transform="translate(206.15 738.9) scale(0.845 1)" font-size="10.6">20.73</text>
<text transform="translate(234.25 738.9) scale(0.845 1)" font-size="10.6">10.70</text>
<text transform="translate(262.35 738.9) scale(0.845 1)" font-size="10.6">19.77</text>
<text transform="translate(290.45 738.9) scale(0.845 1)" font-size="10.6">14.52</text>
<text transform="translate(318.55 738.9) scale(0.845 1)" font-size="10.6">18.98</text>
<text transform="translate(346.65 738.9) scale(0.845 1)" font-size="10.6">19.46</text>
<text transform="translate(122.1 754.54) scale(0.845 1)" font-size="10.6">850</text>
<text transform="translate(149.95 754.54) scale(0.845 1)" font-size="10.6">27.32</text>
<text transform="translate(178.05 754.54) scale(0.845 1)" font-size="10.6">7.96</text>
<text transform="translate(206.15 754.54) scale(0.845 1)" font-size="10.6">26.07</text>
<text transform="translate(234.25 754.54) scale(0.845 1)" font-size="10.6">13.00</text>
<text transform="translate(262.35 754.54) scale(0.845 1)" font-size="10.6">25.11</text>
<text transform="translate(290.45 754.54) scale(0.845 1)" font-size="10.6">17.63</text>
<text transform="translate(318.55 754.54) scale(0.845 1)" font-size="10.6">24.32</text>
<text transform="translate(346.65 754.54) scale(0.845 1)" font-size="10.6">23.62</text>
<text transform="translate(374.75 754.54) scale(0.845 1)" font-size="10.6">23.61</text>
<text transform="translate(402.85 754.54) scale(0.845 1)" font-size="10.6">26.82</text>
<text transform="translate(122.1 770.16) scale(0.845 1)" font-size="10.6">1000</text>
<text transform="translate(149.95 770.16) scale(0.845 1)" font-size="10.6">32.66</text>
<text transform="translate(178.05 770.16) scale(0.845 1)" font-size="10.6">9.36</text>
<text transform="translate(206.15 770.16) scale(0.845 1)" font-size="10.6">31.41</text>
<text transform="translate(234.25 770.16) scale(0.845 1)" font-size="10.6">15.29</text>
<text transform="translate(262.35 770.16) scale(0.845 1)" font-size="10.6">30.45</text>
<text transform="translate(290.45 770.16) scale(0.845 1)" font-size="10.6">20.74</text>
<text transform="translate(318.55 770.16) scale(0.845 1)" font-size="10.6">29.67</text>
<text transform="translate(346.65 770.16) scale(0.845 1)" font-size="10.6">27.79</text>
<text transform="translate(374.75 770.16) scale(0.845 1)" font-size="10.6">28.95</text>
<text transform="translate(402.85 770.16) scale(0.845 1)" font-size="10.6">31.55</text>
<text transform="translate(122.1 785.8) scale(0.845 1)" font-size="10.6">1150</text>
<text transform="translate(149.95 785.8) scale(0.845 1)" font-size="10.6">38.00</text>
<text transform="translate(178.05 785.8) scale(0.845 1)" font-size="10.6">10.76</text>
<text transform="translate(206.15 785.8) scale(0.845 1)" font-size="10.6">36.75</text>
<text transform="translate(234.25 785.8) scale(0.845 1)" font-size="10.6">17.58</text>
<text transform="translate(262.35 785.8) scale(0.845 1)" font-size="10.6">35.79</text>
<text transform="translate(290.45 785.8) scale(0.845 1)" font-size="10.6">23.85</text>
<text transform="translate(318.55 785.8) scale(0.845 1)" font-size="10.6">35.01</text>
<text transform="translate(346.65 785.8) scale(0.845 1)" font-size="10.6">31.96</text>
<text transform="translate(374.75 785.8) scale(0.845 1)" font-size="10.6">34.30</text>
<text transform="translate(402.85 785.8) scale(0.845 1)" font-size="10.6">36.28</text>
<text transform="translate(122.1 801.42) scale(0.845 1)" font-size="10.6">1250</text>
<text transform="translate(149.95 801.42) scale(0.845 1)" font-size="10.6">41.56</text>
<text transform="translate(178.05 801.42) scale(0.845 1)" font-size="10.6">11.70</text>
<text transform="translate(206.15 801.42) scale(0.845 1)" font-size="10.6">40.32</text>
<text transform="translate(234.25 801.42) scale(0.845 1)" font-size="10.6">19.11</text>
<text transform="translate(262.35 801.42) scale(0.845 1)" font-size="10.6">39.35</text>
<text transform="translate(290.45 801.42) scale(0.845 1)" font-size="10.6">25.92</text>
<text transform="translate(318.55 801.42) scale(0.845 1)" font-size="10.6">38.57</text>
<text transform="translate(346.65 801.42) scale(0.845 1)" font-size="10.6">34.74</text>
<text transform="translate(374.75 801.42) scale(0.845 1)" font-size="10.6">37.86</text>
<text transform="translate(402.85 801.42) scale(0.845 1)" font-size="10.6">39.44</text>
<text transform="translate(122.1 817.06) scale(0.845 1)" font-size="10.6">1400</text>
<text transform="translate(149.95 817.06) scale(0.845 1)" font-size="10.6">46.90</text>
<text transform="translate(178.05 817.06) scale(0.845 1)" font-size="10.6">13.11</text>
<text transform="translate(206.15 817.06) scale(0.845 1)" font-size="10.6">45.66</text>
<text transform="translate(234.25 817.06) scale(0.845 1)" font-size="10.6">21.40</text>
<text transform="translate(262.35 817.06) scale(0.845 1)" font-size="10.6">44.70</text>
<text transform="translate(290.45 817.06) scale(0.845 1)" font-size="10.6">29.03</text>
<text transform="translate(318.55 817.06) scale(0.845 1)" font-size="10.6">43.91</text>
<text transform="translate(346.65 817.06) scale(0.845 1)" font-size="10.6">38.91</text>
<text transform="translate(374.75 817.06) scale(0.845 1)" font-size="10.6">43.20</text>
<text transform="translate(402.85 817.06) scale(0.845 1)" font-size="10.6">44.17</text>
<text transform="translate(122.1 832.68) scale(0.845 1)" font-size="10.6">1500</text>
<text transform="translate(149.95 832.68) scale(0.845 1)" font-size="10.6">50.47</text>
<text transform="translate(178.05 832.68) scale(0.845 1)" font-size="10.6">14.04</text>
<text transform="translate(206.15 832.68) scale(0.845 1)" font-size="10.6">49.22</text>
<text transform="translate(234.25 832.68) scale(0.845 1)" font-size="10.6">22.93</text>
<text transform="translate(262.35 832.68) scale(0.845 1)" font-size="10.6">48.26</text>
<text transform="translate(290.45 832.68) scale(0.845 1)" font-size="10.6">31.11</text>
<text transform="translate(318.55 832.68) scale(0.845 1)" font-size="10.6">47.47</text>
<text transform="translate(346.65 832.68) scale(0.845 1)" font-size="10.6">41.69</text>
<text transform="translate(374.75 832.68) scale(0.845 1)" font-size="10.6">46.76</text>
<text transform="translate(402.85 832.68) scale(0.845 1)" font-size="10.6">47.33</text>
</svg>
</body></html>
